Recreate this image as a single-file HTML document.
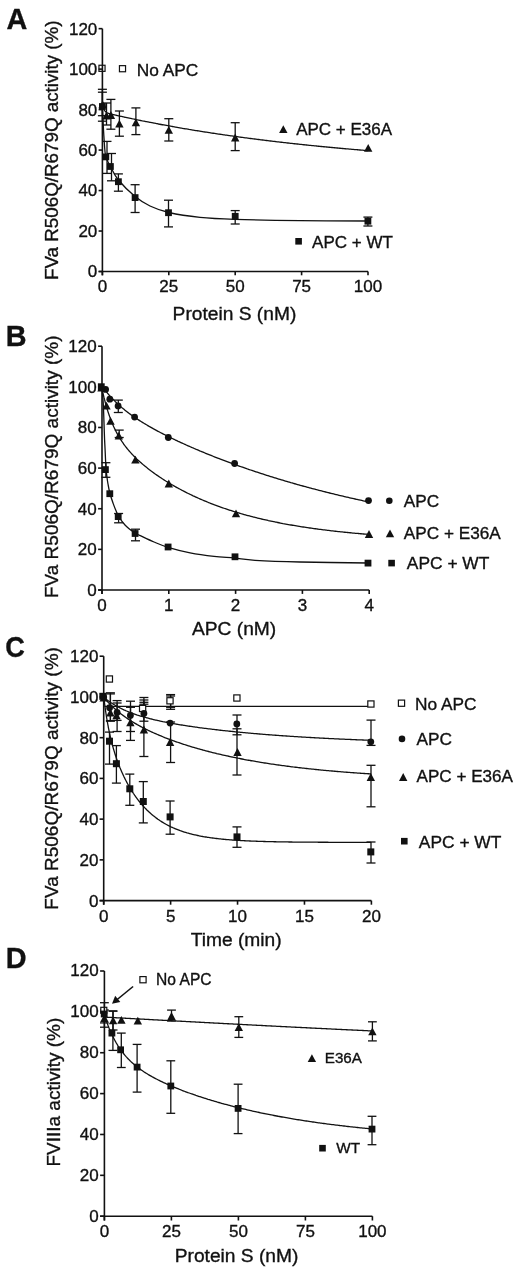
<!DOCTYPE html>
<html><head><meta charset="utf-8"><style>
html,body{margin:0;padding:0;background:#fff;}
svg{display:block;will-change:transform;}
text{font-family:"Liberation Sans", sans-serif;fill:#111;stroke:#111;stroke-width:0.35px;}
</style></head><body>
<svg width="520" height="1267" viewBox="0 0 520 1267">
<rect width="520" height="1267" fill="#fff"/>
<text x="6.60" y="28.90" font-size="28.8" text-anchor="start" font-weight="bold" >A</text>
<text x="5.80" y="346.00" font-size="28.8" text-anchor="start" font-weight="bold" >B</text>
<text transform="translate(5.3,657.0) scale(0.94,1)" x="0" y="0" font-size="28.8" font-weight="bold">C</text>
<text x="5.80" y="968.10" font-size="28.8" text-anchor="start" font-weight="bold" >D</text>
<text x="97.30" y="277.40" font-size="17" text-anchor="end" font-weight="normal" >0</text>
<text x="97.30" y="236.93" font-size="17" text-anchor="end" font-weight="normal" >20</text>
<text x="97.30" y="196.45" font-size="17" text-anchor="end" font-weight="normal" >40</text>
<text x="97.30" y="155.97" font-size="17" text-anchor="end" font-weight="normal" >60</text>
<text x="97.30" y="115.50" font-size="17" text-anchor="end" font-weight="normal" >80</text>
<text x="97.30" y="75.03" font-size="17" text-anchor="end" font-weight="normal" >100</text>
<text x="97.30" y="34.55" font-size="17" text-anchor="end" font-weight="normal" >120</text>
<text x="102.40" y="291.80" font-size="17" text-anchor="middle" font-weight="normal" >0</text>
<text x="168.80" y="291.80" font-size="17" text-anchor="middle" font-weight="normal" >25</text>
<text x="235.20" y="291.80" font-size="17" text-anchor="middle" font-weight="normal" >50</text>
<text x="301.60" y="291.80" font-size="17" text-anchor="middle" font-weight="normal" >75</text>
<text x="368.00" y="291.80" font-size="17" text-anchor="middle" font-weight="normal" >100</text>
<text transform="translate(58.15,280.00) rotate(-90)" x="0" y="0" font-size="18.8">FVa R506Q/R679Q activity (%)</text>
<text x="172.60" y="320.20" font-size="19.2" text-anchor="start" font-weight="normal" >Protein S (nM)</text>
<path d="M102.40,104.02 L102.40,104.02 L102.45,104.27 L102.45,104.28 L102.45,104.30 L102.46,104.31 L102.46,104.32 L102.46,104.33 L102.46,104.35 L102.47,104.36 L102.47,104.38 L102.47,104.39 L102.48,104.41 L102.48,104.42 L102.48,104.44 L102.49,104.46 L102.49,104.48 L102.50,104.50 L102.50,104.52 L102.50,104.54 L102.51,104.56 L102.51,104.58 L102.52,104.61 L102.52,104.63 L102.53,104.66 L102.53,104.69 L102.54,104.71 L102.55,104.74 L102.55,104.77 L102.56,104.81 L102.57,104.84 L102.57,104.87 L102.58,104.91 L102.59,104.95 L102.60,104.98 L102.61,105.02 L102.62,105.07 L102.63,105.11 L102.64,105.15 L102.65,105.20 L102.66,105.25 L102.67,105.30 L102.68,105.35 L102.69,105.41 L102.71,105.46 L102.72,105.52 L102.73,105.58 L102.75,105.64 L102.76,105.71 L102.78,105.77 L102.80,105.84 L102.81,105.91 L102.83,105.99 L102.85,106.06 L102.87,106.14 L102.89,106.22 L102.91,106.30 L102.94,106.39 L102.96,106.48 L102.98,106.57 L103.01,106.66 L103.04,106.76 L103.06,106.86 L103.09,106.96 L103.12,107.07 L103.16,107.17 L103.19,107.28 L103.22,107.40 L103.26,107.51 L103.30,107.63 L103.34,107.75 L103.38,107.87 L103.42,108.00 L103.47,108.13 L103.51,108.26 L103.56,108.39 L103.61,108.53 L103.67,108.66 L103.72,108.80 L103.73,108.83 L103.78,108.94 L103.84,109.08 L103.91,109.22 L103.97,109.37 L104.04,109.51 L104.11,109.66 L104.19,109.80 L104.27,109.95 L104.35,110.10 L104.44,110.24 L104.53,110.39 L104.62,110.53 L104.72,110.68 L104.82,110.82 L104.93,110.96 L105.04,111.10 L105.07,111.14 L105.15,111.24 L105.28,111.38 L105.40,111.51 L105.53,111.65 L105.67,111.77 L105.82,111.90 L105.97,112.03 L106.12,112.15 L106.29,112.27 L106.40,112.35 L106.46,112.38 L106.64,112.49 L106.82,112.60 L107.02,112.71 L107.22,112.82 L107.43,112.92 L107.66,113.02 L107.74,113.05 L107.89,113.11 L108.13,113.21 L108.38,113.30 L108.65,113.40 L108.92,113.49 L109.07,113.54 L109.21,113.58 L109.51,113.67 L109.82,113.76 L110.15,113.85 L110.41,113.92 L110.49,113.94 L110.85,114.04 L111.22,114.13 L111.61,114.23 L111.74,114.26 L112.01,114.33 L112.43,114.43 L112.88,114.53 L113.08,114.58 L113.34,114.64 L113.82,114.75 L114.32,114.87 L114.41,114.89 L114.85,114.99 L115.40,115.11 L115.75,115.19 L115.97,115.24 L116.57,115.38 L117.08,115.49 L117.19,115.52 L117.84,115.66 L118.42,115.79 L118.52,115.81 L119.23,115.97 L119.75,116.09 L119.97,116.13 L120.75,116.30 L121.09,116.38 L121.56,116.48 L122.40,116.67 L122.42,116.67 L123.28,116.86 L123.75,116.96 L124.20,117.06 L125.09,117.25 L125.16,117.27 L126.16,117.48 L126.42,117.54 L127.21,117.71 L127.76,117.82 L128.30,117.94 L129.09,118.11 L129.44,118.18 L130.43,118.39 L130.64,118.43 L131.76,118.67 L131.88,118.70 L133.10,118.95 L133.18,118.97 L134.43,119.23 L134.53,119.25 L135.77,119.51 L135.95,119.54 L137.10,119.78 L137.43,119.85 L138.44,120.05 L138.97,120.16 L139.77,120.33 L140.58,120.49 L141.11,120.60 L142.26,120.83 L142.44,120.87 L143.77,121.13 L144.02,121.18 L145.11,121.40 L145.85,121.55 L146.44,121.67 L147.76,121.93 L147.78,121.93 L149.11,122.19 L149.76,122.32 L150.45,122.45 L151.78,122.71 L151.85,122.72 L153.12,122.97 L154.03,123.14 L154.45,123.22 L155.79,123.48 L156.30,123.58 L157.12,123.73 L158.46,123.99 L158.67,124.03 L159.79,124.24 L161.13,124.49 L161.15,124.49 L162.46,124.74 L163.74,124.97 L163.79,124.98 L165.13,125.23 L166.44,125.47 L166.46,125.47 L167.80,125.72 L169.13,125.96 L169.26,125.98 L170.47,126.20 L171.80,126.44 L172.21,126.51 L173.14,126.67 L174.47,126.91 L175.28,127.05 L175.81,127.15 L177.14,127.38 L178.48,127.61 L178.49,127.62 L179.81,127.84 L181.15,128.07 L181.85,128.20 L182.48,128.30 L183.82,128.53 L185.15,128.76 L185.35,128.79 L186.48,128.98 L187.82,129.21 L189.00,129.40 L189.15,129.43 L190.49,129.65 L191.82,129.87 L192.81,130.04 L193.16,130.09 L194.49,130.31 L195.83,130.53 L196.80,130.68 L197.16,130.74 L198.50,130.96 L199.83,131.17 L200.95,131.35 L201.17,131.38 L202.50,131.60 L203.84,131.81 L205.17,132.01 L205.29,132.03 L206.50,132.22 L207.84,132.43 L209.17,132.63 L209.83,132.73 L210.51,132.84 L211.84,133.04 L213.18,133.25 L214.51,133.45 L214.56,133.45 L215.85,133.65 L217.18,133.85 L218.52,134.04 L219.50,134.19 L219.85,134.24 L221.19,134.44 L222.52,134.63 L223.86,134.83 L224.66,134.94 L225.19,135.02 L226.52,135.21 L227.86,135.40 L229.19,135.59 L230.04,135.71 L230.53,135.78 L231.86,135.97 L233.20,136.15 L234.53,136.34 L235.66,136.49 L235.87,136.52 L237.20,136.71 L238.54,136.89 L239.87,137.07 L241.21,137.25 L241.53,137.30 L242.54,137.43 L243.88,137.61 L245.21,137.79 L246.54,137.96 L247.66,138.11 L247.88,138.14 L249.21,138.32 L250.55,138.49 L251.88,138.66 L253.22,138.83 L254.06,138.94 L254.55,139.01 L255.89,139.18 L257.22,139.35 L258.56,139.51 L259.89,139.68 L260.74,139.79 L261.23,139.85 L262.56,140.01 L263.90,140.18 L265.23,140.34 L266.56,140.51 L267.71,140.65 L267.90,140.67 L269.23,140.83 L270.57,140.99 L271.90,141.15 L273.24,141.31 L274.57,141.47 L275.00,141.52 L275.91,141.62 L277.24,141.78 L278.58,141.93 L279.91,142.09 L281.25,142.24 L282.58,142.40 L282.60,142.40 L283.92,142.55 L285.25,142.70 L286.58,142.85 L287.92,143.00 L289.25,143.15 L290.53,143.29 L290.59,143.30 L291.92,143.44 L293.26,143.59 L294.59,143.74 L295.93,143.88 L297.26,144.02 L298.60,144.17 L298.82,144.19 L299.93,144.31 L301.27,144.45 L302.60,144.59 L303.94,144.73 L305.27,144.87 L306.61,145.01 L307.47,145.10 L307.94,145.15 L309.27,145.29 L310.61,145.42 L311.94,145.56 L313.28,145.69 L314.61,145.83 L315.95,145.96 L316.51,146.02 L317.28,146.09 L318.62,146.23 L319.95,146.36 L321.29,146.49 L322.62,146.62 L323.96,146.75 L325.29,146.88 L325.94,146.94 L326.63,147.00 L327.96,147.13 L329.29,147.26 L330.63,147.38 L331.96,147.51 L333.30,147.63 L334.63,147.76 L335.78,147.86 L335.97,147.88 L337.30,148.00 L338.64,148.13 L339.97,148.25 L341.31,148.37 L342.64,148.49 L343.98,148.61 L345.31,148.73 L346.06,148.79 L346.65,148.84 L347.98,148.96 L349.31,149.08 L350.65,149.19 L351.98,149.31 L353.32,149.42 L354.65,149.54 L355.99,149.65 L356.79,149.72 L357.32,149.77 L358.66,149.88 L359.99,149.99 L361.33,150.10 L362.66,150.21 L364.00,150.32 L365.33,150.43 L366.67,150.54 L368.00,150.65" fill="none" stroke="#111" stroke-width="1.3" stroke-linejoin="round"/>
<path d="M102.40,106.00 C102.48,108.00 102.73,114.33 102.90,118.00 C103.07,121.67 103.25,125.17 103.40,128.00 C103.55,130.83 103.60,131.83 103.80,135.00 C104.00,138.17 104.35,143.83 104.60,147.00 C104.85,150.17 104.98,152.08 105.30,154.00 C105.62,155.92 106.05,157.17 106.50,158.50 C106.95,159.83 107.35,160.67 108.00,162.00 C108.65,163.33 108.67,163.50 110.40,166.50 C112.13,169.50 114.28,175.00 118.40,180.00 C122.52,185.00 129.83,192.17 135.10,196.50 C140.37,200.83 144.38,203.33 150.00,206.00 C155.62,208.67 160.47,210.62 168.80,212.50 C177.13,214.38 188.97,216.17 200.00,217.30 C211.03,218.43 218.33,218.75 235.00,219.30 C251.67,219.85 277.83,220.32 300.00,220.60 C322.17,220.88 356.67,220.93 368.00,221.00" fill="none" stroke="#111" stroke-width="1.3"/>
<line x1="102.40" y1="92.20" x2="102.40" y2="115.70" stroke="#111" stroke-width="1.3"/>
<line x1="97.90" y1="92.20" x2="106.90" y2="92.20" stroke="#111" stroke-width="1.3"/>
<line x1="97.90" y1="115.70" x2="106.90" y2="115.70" stroke="#111" stroke-width="1.3"/>
<line x1="106.50" y1="103.00" x2="106.50" y2="125.00" stroke="#111" stroke-width="1.3"/>
<line x1="102.00" y1="103.00" x2="111.00" y2="103.00" stroke="#111" stroke-width="1.3"/>
<line x1="102.00" y1="125.00" x2="111.00" y2="125.00" stroke="#111" stroke-width="1.3"/>
<line x1="110.90" y1="99.40" x2="110.90" y2="129.20" stroke="#111" stroke-width="1.3"/>
<line x1="106.40" y1="99.40" x2="115.40" y2="99.40" stroke="#111" stroke-width="1.3"/>
<line x1="106.40" y1="129.20" x2="115.40" y2="129.20" stroke="#111" stroke-width="1.3"/>
<line x1="119.40" y1="111.00" x2="119.40" y2="136.20" stroke="#111" stroke-width="1.3"/>
<line x1="114.90" y1="111.00" x2="123.90" y2="111.00" stroke="#111" stroke-width="1.3"/>
<line x1="114.90" y1="136.20" x2="123.90" y2="136.20" stroke="#111" stroke-width="1.3"/>
<line x1="135.90" y1="107.90" x2="135.90" y2="134.60" stroke="#111" stroke-width="1.3"/>
<line x1="131.40" y1="107.90" x2="140.40" y2="107.90" stroke="#111" stroke-width="1.3"/>
<line x1="131.40" y1="134.60" x2="140.40" y2="134.60" stroke="#111" stroke-width="1.3"/>
<line x1="168.80" y1="118.70" x2="168.80" y2="141.00" stroke="#111" stroke-width="1.3"/>
<line x1="164.30" y1="118.70" x2="173.30" y2="118.70" stroke="#111" stroke-width="1.3"/>
<line x1="164.30" y1="141.00" x2="173.30" y2="141.00" stroke="#111" stroke-width="1.3"/>
<line x1="235.20" y1="122.70" x2="235.20" y2="150.60" stroke="#111" stroke-width="1.3"/>
<line x1="230.70" y1="122.70" x2="239.70" y2="122.70" stroke="#111" stroke-width="1.3"/>
<line x1="230.70" y1="150.60" x2="239.70" y2="150.60" stroke="#111" stroke-width="1.3"/>
<line x1="102.40" y1="89.30" x2="102.40" y2="121.20" stroke="#111" stroke-width="1.3"/>
<line x1="97.90" y1="89.30" x2="106.90" y2="89.30" stroke="#111" stroke-width="1.3"/>
<line x1="97.90" y1="121.20" x2="106.90" y2="121.20" stroke="#111" stroke-width="1.3"/>
<line x1="107.00" y1="141.40" x2="107.00" y2="173.40" stroke="#111" stroke-width="1.3"/>
<line x1="102.50" y1="141.40" x2="111.50" y2="141.40" stroke="#111" stroke-width="1.3"/>
<line x1="102.50" y1="173.40" x2="111.50" y2="173.40" stroke="#111" stroke-width="1.3"/>
<line x1="111.50" y1="153.50" x2="111.50" y2="180.80" stroke="#111" stroke-width="1.3"/>
<line x1="107.00" y1="153.50" x2="116.00" y2="153.50" stroke="#111" stroke-width="1.3"/>
<line x1="107.00" y1="180.80" x2="116.00" y2="180.80" stroke="#111" stroke-width="1.3"/>
<line x1="118.40" y1="173.90" x2="118.40" y2="191.20" stroke="#111" stroke-width="1.3"/>
<line x1="113.90" y1="173.90" x2="122.90" y2="173.90" stroke="#111" stroke-width="1.3"/>
<line x1="113.90" y1="191.20" x2="122.90" y2="191.20" stroke="#111" stroke-width="1.3"/>
<line x1="135.10" y1="184.70" x2="135.10" y2="212.50" stroke="#111" stroke-width="1.3"/>
<line x1="130.60" y1="184.70" x2="139.60" y2="184.70" stroke="#111" stroke-width="1.3"/>
<line x1="130.60" y1="212.50" x2="139.60" y2="212.50" stroke="#111" stroke-width="1.3"/>
<line x1="168.50" y1="200.20" x2="168.50" y2="226.90" stroke="#111" stroke-width="1.3"/>
<line x1="164.00" y1="200.20" x2="173.00" y2="200.20" stroke="#111" stroke-width="1.3"/>
<line x1="164.00" y1="226.90" x2="173.00" y2="226.90" stroke="#111" stroke-width="1.3"/>
<line x1="235.20" y1="210.60" x2="235.20" y2="224.00" stroke="#111" stroke-width="1.3"/>
<line x1="230.70" y1="210.60" x2="239.70" y2="210.60" stroke="#111" stroke-width="1.3"/>
<line x1="230.70" y1="224.00" x2="239.70" y2="224.00" stroke="#111" stroke-width="1.3"/>
<line x1="367.90" y1="217.10" x2="367.90" y2="226.00" stroke="#111" stroke-width="1.3"/>
<line x1="363.40" y1="217.10" x2="372.40" y2="217.10" stroke="#111" stroke-width="1.3"/>
<line x1="363.40" y1="226.00" x2="372.40" y2="226.00" stroke="#111" stroke-width="1.3"/>
<path d="M106.50,111.60 L110.70,119.40 L102.30,119.40 Z" fill="#111"/>
<path d="M110.90,111.10 L115.10,118.90 L106.70,118.90 Z" fill="#111"/>
<path d="M119.40,119.80 L123.60,127.60 L115.20,127.60 Z" fill="#111"/>
<path d="M135.90,118.40 L140.10,126.20 L131.70,126.20 Z" fill="#111"/>
<path d="M168.80,125.90 L173.00,133.70 L164.60,133.70 Z" fill="#111"/>
<path d="M235.20,133.60 L239.40,141.40 L231.00,141.40 Z" fill="#111"/>
<path d="M368.20,144.00 L372.40,151.80 L364.00,151.80 Z" fill="#111"/>
<rect x="99.00" y="103.10" width="6.8" height="6.8" fill="#111"/>
<rect x="102.40" y="153.50" width="6.8" height="6.8" fill="#111"/>
<rect x="107.00" y="163.10" width="6.8" height="6.8" fill="#111"/>
<rect x="115.00" y="178.30" width="6.8" height="6.8" fill="#111"/>
<rect x="131.70" y="194.20" width="6.8" height="6.8" fill="#111"/>
<rect x="165.10" y="209.30" width="6.8" height="6.8" fill="#111"/>
<rect x="231.80" y="212.90" width="6.8" height="6.8" fill="#111"/>
<rect x="364.50" y="217.80" width="6.8" height="6.8" fill="#111"/>
<path d="M102.60,100.40 L106.80,108.20 L98.40,108.20 Z" fill="#111"/>
<rect x="98.95" y="65.25" width="6.10" height="6.10" fill="#fff" stroke="#111" stroke-width="1.2"/>
<rect x="119.45" y="65.65" width="6.10" height="6.10" fill="#fff" stroke="#111" stroke-width="1.2"/>
<text x="136.70" y="75.50" font-size="17.3" text-anchor="start" font-weight="normal" >No APC</text>
<path d="M283.30,125.30 L287.50,133.10 L279.10,133.10 Z" fill="#111"/>
<text x="296.20" y="134.50" font-size="17" text-anchor="start" font-weight="normal" >APC + E36A</text>
<rect x="295.30" y="238.00" width="6.6" height="6.6" fill="#111"/>
<text x="312.10" y="247.60" font-size="17" text-anchor="start" font-weight="normal" >APC + WT</text>
<text x="96.60" y="595.90" font-size="17" text-anchor="end" font-weight="normal" >0</text>
<text x="96.60" y="555.27" font-size="17" text-anchor="end" font-weight="normal" >20</text>
<text x="96.60" y="514.63" font-size="17" text-anchor="end" font-weight="normal" >40</text>
<text x="96.60" y="474.00" font-size="17" text-anchor="end" font-weight="normal" >60</text>
<text x="96.60" y="433.37" font-size="17" text-anchor="end" font-weight="normal" >80</text>
<text x="96.60" y="392.73" font-size="17" text-anchor="end" font-weight="normal" >100</text>
<text x="96.60" y="352.10" font-size="17" text-anchor="end" font-weight="normal" >120</text>
<text x="102.00" y="611.00" font-size="17" text-anchor="middle" font-weight="normal" >0</text>
<text x="168.80" y="611.00" font-size="17" text-anchor="middle" font-weight="normal" >1</text>
<text x="235.60" y="611.00" font-size="17" text-anchor="middle" font-weight="normal" >2</text>
<text x="302.40" y="611.00" font-size="17" text-anchor="middle" font-weight="normal" >3</text>
<text x="369.20" y="611.00" font-size="17" text-anchor="middle" font-weight="normal" >4</text>
<text transform="translate(58.15,598.10) rotate(-90)" x="0" y="0" font-size="19">FVa R506Q/R679Q activity (%)</text>
<text x="192.00" y="635.40" font-size="19.2" text-anchor="start" font-weight="normal" >APC (nM)</text>
<path d="M101.80,385.79 L101.80,385.79 L101.85,385.86 L101.85,385.86 L101.85,385.87 L101.86,385.87 L101.86,385.87 L101.86,385.88 L101.86,385.88 L101.87,385.88 L101.87,385.89 L101.87,385.89 L101.88,385.90 L101.88,385.90 L101.88,385.91 L101.89,385.91 L101.89,385.92 L101.90,385.92 L101.90,385.93 L101.90,385.94 L101.91,385.94 L101.91,385.95 L101.92,385.96 L101.92,385.96 L101.93,385.97 L101.93,385.98 L101.94,385.99 L101.95,386.00 L101.95,386.00 L101.96,386.01 L101.97,386.02 L101.97,386.03 L101.98,386.05 L101.99,386.06 L102.00,386.07 L102.01,386.08 L102.02,386.09 L102.03,386.11 L102.04,386.12 L102.05,386.14 L102.06,386.15 L102.07,386.17 L102.08,386.18 L102.09,386.20 L102.11,386.22 L102.12,386.24 L102.13,386.26 L102.15,386.28 L102.16,386.30 L102.18,386.32 L102.20,386.34 L102.21,386.37 L102.23,386.39 L102.25,386.42 L102.27,386.45 L102.29,386.48 L102.31,386.51 L102.34,386.54 L102.36,386.57 L102.38,386.61 L102.41,386.64 L102.44,386.68 L102.46,386.72 L102.49,386.76 L102.52,386.80 L102.56,386.85 L102.59,386.89 L102.62,386.94 L102.66,386.99 L102.70,387.04 L102.74,387.10 L102.78,387.15 L102.82,387.21 L102.87,387.27 L102.92,387.34 L102.96,387.41 L103.02,387.48 L103.07,387.55 L103.13,387.62 L103.14,387.64 L103.18,387.70 L103.24,387.79 L103.31,387.87 L103.38,387.96 L103.44,388.06 L103.52,388.15 L103.59,388.25 L103.67,388.36 L103.75,388.47 L103.84,388.58 L103.93,388.70 L104.02,388.83 L104.12,388.96 L104.22,389.09 L104.33,389.23 L104.44,389.38 L104.48,389.43 L104.56,389.53 L104.68,389.69 L104.81,389.85 L104.94,390.02 L105.08,390.20 L105.22,390.38 L105.37,390.58 L105.53,390.78 L105.70,390.98 L105.82,391.14 L105.87,391.20 L106.05,391.42 L106.23,391.66 L106.43,391.90 L106.63,392.15 L106.85,392.41 L107.07,392.68 L107.16,392.79 L107.30,392.96 L107.54,393.25 L107.80,393.55 L108.06,393.86 L108.34,394.18 L108.50,394.38 L108.62,394.52 L108.93,394.87 L109.24,395.23 L109.57,395.60 L109.84,395.91 L109.91,395.98 L110.27,396.38 L110.64,396.79 L111.03,397.22 L111.18,397.38 L111.44,397.66 L111.86,398.11 L112.30,398.58 L112.52,398.81 L112.77,399.07 L113.25,399.57 L113.75,400.08 L113.86,400.19 L114.28,400.62 L114.83,401.16 L115.20,401.53 L115.41,401.73 L116.01,402.31 L116.54,402.82 L116.63,402.91 L117.29,403.52 L117.88,404.08 L117.97,404.16 L118.68,404.81 L119.22,405.30 L119.42,405.48 L120.20,406.17 L120.56,406.48 L121.01,406.87 L121.86,407.60 L121.90,407.64 L122.74,408.34 L123.24,408.76 L123.66,409.11 L124.58,409.85 L124.63,409.89 L125.63,410.69 L125.92,410.92 L126.68,411.51 L127.26,411.96 L127.78,412.36 L128.60,412.98 L128.93,413.22 L129.94,413.97 L130.12,414.10 L131.28,414.95 L131.37,415.01 L132.62,415.90 L132.67,415.93 L133.96,416.83 L134.03,416.88 L135.31,417.75 L135.45,417.85 L136.65,418.65 L136.94,418.84 L137.99,419.53 L138.49,419.86 L139.33,420.40 L140.10,420.90 L140.67,421.25 L141.79,421.96 L142.01,422.09 L143.35,422.92 L143.55,423.05 L144.69,423.74 L145.39,424.16 L146.03,424.54 L147.31,425.30 L147.37,425.33 L148.71,426.11 L149.32,426.46 L150.05,426.88 L151.39,427.64 L151.41,427.66 L152.73,428.39 L153.60,428.88 L154.07,429.13 L155.41,429.87 L155.88,430.13 L156.75,430.59 L158.09,431.31 L158.27,431.41 L159.43,432.02 L160.75,432.72 L160.77,432.73 L162.11,433.42 L163.35,434.06 L163.45,434.11 L164.79,434.79 L166.06,435.44 L166.13,435.47 L167.47,436.14 L168.81,436.80 L168.90,436.85 L170.15,437.46 L171.49,438.12 L171.85,438.29 L172.83,438.76 L174.17,439.41 L174.94,439.77 L175.51,440.05 L176.85,440.68 L178.16,441.29 L178.19,441.31 L179.53,441.93 L180.87,442.55 L181.53,442.85 L182.21,443.16 L183.55,443.77 L184.89,444.38 L185.04,444.45 L186.23,444.98 L187.57,445.58 L188.71,446.08 L188.91,446.17 L190.25,446.76 L191.59,447.35 L192.54,447.76 L192.93,447.93 L194.27,448.51 L195.61,449.08 L196.54,449.48 L196.95,449.66 L198.29,450.22 L199.63,450.79 L200.71,451.24 L200.97,451.35 L202.32,451.91 L203.66,452.46 L205.00,453.01 L205.07,453.04 L206.34,453.56 L207.68,454.10 L209.02,454.64 L209.62,454.89 L210.36,455.18 L211.70,455.72 L213.04,456.25 L214.38,456.78 L214.38,456.78 L215.72,457.30 L217.06,457.83 L218.40,458.35 L219.34,458.71 L219.74,458.86 L221.08,459.38 L222.42,459.89 L223.76,460.40 L224.52,460.68 L225.10,460.90 L226.44,461.40 L227.78,461.90 L229.12,462.40 L229.92,462.70 L230.46,462.90 L231.80,463.39 L233.14,463.88 L234.48,464.36 L235.57,464.76 L235.82,464.85 L237.16,465.33 L238.50,465.81 L239.84,466.28 L241.18,466.76 L241.47,466.86 L242.52,467.23 L243.86,467.70 L245.20,468.16 L246.54,468.62 L247.62,469.00 L247.88,469.09 L249.22,469.54 L250.56,470.00 L251.90,470.45 L253.24,470.90 L254.05,471.17 L254.58,471.35 L255.92,471.80 L257.26,472.24 L258.60,472.68 L259.94,473.12 L260.76,473.39 L261.28,473.56 L262.62,473.99 L263.96,474.42 L265.30,474.85 L266.64,475.28 L267.76,475.64 L267.98,475.71 L269.33,476.13 L270.67,476.55 L272.01,476.97 L273.35,477.38 L274.69,477.80 L275.07,477.92 L276.03,478.21 L277.37,478.62 L278.71,479.03 L280.05,479.43 L281.39,479.84 L282.71,480.23 L282.73,480.24 L284.07,480.64 L285.41,481.03 L286.75,481.43 L288.09,481.82 L289.43,482.21 L290.68,482.57 L290.77,482.60 L292.11,482.98 L293.45,483.37 L294.79,483.75 L296.13,484.13 L297.47,484.51 L298.81,484.88 L299.01,484.94 L300.15,485.26 L301.49,485.63 L302.83,486.00 L304.17,486.37 L305.51,486.73 L306.85,487.10 L307.70,487.33 L308.19,487.46 L309.53,487.82 L310.87,488.18 L312.21,488.54 L313.55,488.89 L314.89,489.24 L316.23,489.59 L316.77,489.74 L317.57,489.94 L318.91,490.29 L320.25,490.64 L321.59,490.98 L322.93,491.32 L324.27,491.66 L325.61,492.00 L326.24,492.16 L326.95,492.34 L328.29,492.67 L329.63,493.00 L330.97,493.33 L332.31,493.66 L333.65,493.99 L334.99,494.32 L336.13,494.59 L336.34,494.64 L337.68,494.96 L339.02,495.28 L340.36,495.60 L341.70,495.92 L343.04,496.24 L344.38,496.55 L345.72,496.86 L346.46,497.03 L347.06,497.17 L348.40,497.48 L349.74,497.79 L351.08,498.09 L352.42,498.40 L353.76,498.70 L355.10,499.00 L356.44,499.30 L357.24,499.48 L357.78,499.60 L359.12,499.89 L360.46,500.19 L361.80,500.48 L363.14,500.77 L364.48,501.06 L365.82,501.35 L367.16,501.64 L368.50,501.92" fill="none" stroke="#111" stroke-width="1.3" stroke-linejoin="round"/>
<path d="M101.80,387.74 L101.80,387.74 L101.85,387.98 L101.85,387.99 L101.85,388.00 L101.86,388.01 L101.86,388.02 L101.86,388.04 L101.86,388.05 L101.87,388.06 L101.87,388.08 L101.87,388.09 L101.88,388.11 L101.88,388.12 L101.88,388.14 L101.89,388.16 L101.89,388.18 L101.90,388.19 L101.90,388.21 L101.90,388.24 L101.91,388.26 L101.91,388.28 L101.92,388.30 L101.92,388.33 L101.93,388.35 L101.93,388.38 L101.94,388.41 L101.95,388.44 L101.95,388.47 L101.96,388.50 L101.97,388.54 L101.97,388.57 L101.98,388.61 L101.99,388.64 L102.00,388.68 L102.01,388.73 L102.02,388.77 L102.03,388.81 L102.04,388.86 L102.05,388.91 L102.06,388.96 L102.07,389.01 L102.08,389.07 L102.09,389.13 L102.11,389.19 L102.12,389.25 L102.13,389.32 L102.15,389.39 L102.16,389.46 L102.18,389.53 L102.20,389.61 L102.21,389.69 L102.23,389.78 L102.25,389.87 L102.27,389.96 L102.29,390.05 L102.31,390.15 L102.34,390.26 L102.36,390.37 L102.38,390.48 L102.41,390.60 L102.44,390.72 L102.47,390.85 L102.49,390.98 L102.53,391.12 L102.56,391.27 L102.59,391.42 L102.63,391.58 L102.66,391.74 L102.70,391.91 L102.74,392.09 L102.78,392.27 L102.82,392.46 L102.87,392.66 L102.92,392.87 L102.97,393.09 L103.02,393.32 L103.07,393.55 L103.13,393.79 L103.14,393.86 L103.18,394.05 L103.25,394.31 L103.31,394.58 L103.38,394.87 L103.45,395.17 L103.52,395.47 L103.59,395.79 L103.67,396.12 L103.76,396.47 L103.84,396.82 L103.93,397.19 L104.03,397.58 L104.12,397.98 L104.23,398.39 L104.33,398.82 L104.44,399.26 L104.49,399.42 L104.56,399.72 L104.68,400.19 L104.81,400.69 L104.94,401.20 L105.08,401.72 L105.23,402.27 L105.38,402.83 L105.53,403.41 L105.70,404.01 L105.83,404.47 L105.87,404.63 L106.05,405.27 L106.24,405.92 L106.43,406.60 L106.64,407.30 L106.85,408.02 L107.07,408.76 L107.17,409.08 L107.31,409.52 L107.55,410.31 L107.80,411.11 L108.07,411.93 L108.34,412.78 L108.51,413.29 L108.63,413.65 L108.93,414.54 L109.25,415.45 L109.58,416.38 L109.86,417.16 L109.92,417.33 L110.28,418.30 L110.65,419.30 L111.04,420.31 L111.20,420.72 L111.45,421.34 L111.87,422.40 L112.32,423.47 L112.54,424.00 L112.78,424.56 L113.26,425.67 L113.77,426.79 L113.88,427.04 L114.30,427.93 L114.85,429.09 L115.23,429.87 L115.42,430.26 L116.02,431.45 L116.57,432.50 L116.65,432.65 L117.30,433.87 L117.91,434.97 L117.99,435.10 L118.70,436.34 L119.26,437.28 L119.45,437.60 L120.22,438.86 L120.60,439.45 L121.04,440.14 L121.88,441.42 L121.94,441.51 L122.77,442.72 L123.28,443.45 L123.69,444.03 L124.63,445.30 L124.66,445.35 L125.67,446.67 L125.97,447.06 L126.72,448.01 L127.31,448.75 L127.82,449.36 L128.65,450.36 L128.96,450.72 L130.00,451.91 L130.16,452.09 L131.34,453.40 L131.41,453.47 L132.68,454.83 L132.72,454.87 L134.03,456.22 L134.08,456.27 L135.37,457.56 L135.50,457.69 L136.71,458.87 L136.99,459.13 L138.05,460.13 L138.54,460.58 L139.40,461.36 L140.16,462.05 L140.74,462.56 L141.85,463.53 L142.08,463.73 L143.42,464.88 L143.61,465.04 L144.77,465.99 L145.46,466.56 L146.11,467.09 L147.38,468.10 L147.45,468.16 L148.79,469.21 L149.39,469.66 L150.14,470.23 L151.48,471.24 L151.49,471.25 L152.82,472.23 L153.68,472.85 L154.17,473.21 L155.51,474.16 L155.96,474.48 L156.85,475.10 L158.19,476.03 L158.35,476.14 L159.54,476.94 L160.84,477.81 L160.88,477.83 L162.22,478.71 L163.45,479.51 L163.56,479.58 L164.91,480.44 L166.16,481.22 L166.25,481.28 L167.59,482.11 L168.94,482.92 L169.00,482.96 L170.28,483.73 L171.62,484.52 L171.96,484.72 L172.96,485.30 L174.31,486.07 L175.06,486.50 L175.65,486.83 L176.99,487.58 L178.29,488.30 L178.33,488.32 L179.68,489.05 L181.02,489.77 L181.66,490.11 L182.36,490.48 L183.71,491.18 L185.05,491.87 L185.18,491.93 L186.39,492.55 L187.73,493.22 L188.85,493.77 L189.08,493.88 L190.42,494.53 L191.76,495.17 L192.69,495.61 L193.10,495.81 L194.45,496.43 L195.79,497.05 L196.70,497.46 L197.13,497.66 L198.48,498.26 L199.82,498.85 L200.88,499.32 L201.16,499.44 L202.50,500.01 L203.85,500.58 L205.19,501.15 L205.25,501.17 L206.53,501.70 L207.87,502.25 L209.22,502.78 L209.80,503.02 L210.56,503.32 L211.90,503.84 L213.25,504.36 L214.57,504.86 L214.59,504.87 L215.93,505.37 L217.27,505.87 L218.62,506.36 L219.54,506.69 L219.96,506.84 L221.30,507.32 L222.64,507.79 L223.99,508.25 L224.73,508.51 L225.33,508.71 L226.67,509.16 L228.02,509.61 L229.36,510.05 L230.14,510.30 L230.70,510.48 L232.04,510.91 L233.39,511.33 L234.73,511.75 L235.80,512.08 L236.07,512.16 L237.41,512.57 L238.76,512.97 L240.10,513.36 L241.44,513.75 L241.71,513.83 L242.78,514.13 L244.13,514.51 L245.47,514.89 L246.81,515.26 L247.87,515.54 L248.16,515.62 L249.50,515.98 L250.84,516.33 L252.18,516.68 L253.53,517.03 L254.31,517.23 L254.87,517.37 L256.21,517.70 L257.55,518.03 L258.90,518.36 L260.24,518.68 L261.04,518.87 L261.58,519.00 L262.93,519.31 L264.27,519.62 L265.61,519.93 L266.95,520.23 L268.05,520.47 L268.30,520.53 L269.64,520.82 L270.98,521.11 L272.32,521.39 L273.67,521.67 L275.01,521.95 L275.38,522.03 L276.35,522.23 L277.70,522.50 L279.04,522.76 L280.38,523.02 L281.72,523.28 L283.03,523.53 L283.07,523.54 L284.41,523.79 L285.75,524.04 L287.09,524.29 L288.44,524.53 L289.78,524.77 L291.02,524.99 L291.12,525.00 L292.47,525.24 L293.81,525.47 L295.15,525.69 L296.49,525.92 L297.84,526.14 L299.18,526.36 L299.36,526.38 L300.52,526.57 L301.86,526.78 L303.21,526.99 L304.55,527.20 L305.89,527.40 L307.24,527.60 L308.07,527.72 L308.58,527.80 L309.92,527.99 L311.26,528.19 L312.61,528.38 L313.95,528.56 L315.29,528.75 L316.63,528.93 L317.16,529.00 L317.98,529.11 L319.32,529.29 L320.66,529.46 L322.01,529.64 L323.35,529.81 L324.69,529.98 L326.03,530.14 L326.66,530.22 L327.38,530.31 L328.72,530.47 L330.06,530.63 L331.40,530.78 L332.75,530.94 L334.09,531.09 L335.43,531.24 L336.57,531.37 L336.77,531.39 L338.12,531.54 L339.46,531.68 L340.80,531.83 L342.15,531.97 L343.49,532.11 L344.83,532.24 L346.17,532.38 L346.92,532.45 L347.52,532.51 L348.86,532.64 L350.20,532.77 L351.54,532.90 L352.89,533.03 L354.23,533.15 L355.57,533.28 L356.92,533.40 L357.72,533.47 L358.26,533.52 L359.60,533.64 L360.94,533.75 L362.29,533.87 L363.63,533.98 L364.97,534.10 L366.31,534.21 L367.66,534.31 L369.00,534.42" fill="none" stroke="#111" stroke-width="1.3" stroke-linejoin="round"/>
<path d="M101.80,387.50 C101.90,388.25 102.22,390.25 102.40,392.00 C102.58,393.75 102.73,395.67 102.90,398.00 C103.07,400.33 103.23,402.33 103.40,406.00 C103.57,409.67 103.75,415.67 103.90,420.00 C104.05,424.33 104.18,428.67 104.30,432.00 C104.42,435.33 104.47,437.00 104.60,440.00 C104.73,443.00 104.93,446.45 105.10,450.00 C105.27,453.55 105.42,457.97 105.60,461.30 C105.78,464.63 105.97,467.30 106.20,470.00 C106.43,472.70 106.70,475.17 107.00,477.50 C107.30,479.83 107.57,481.58 108.00,484.00 C108.43,486.42 108.77,488.83 109.60,492.00 C110.43,495.17 111.57,499.08 113.00,503.00 C114.43,506.92 116.20,511.83 118.20,515.50 C120.20,519.17 122.18,522.05 125.00,525.00 C127.82,527.95 132.67,531.48 135.10,533.20 C137.53,534.92 136.45,533.83 139.60,535.30 C142.75,536.77 149.27,540.00 154.00,542.00 C158.73,544.00 161.98,545.50 168.00,547.30 C174.02,549.10 182.42,551.28 190.10,552.80 C197.78,554.32 206.68,555.52 214.10,556.40 C221.52,557.28 227.78,557.45 234.60,558.10 C241.42,558.75 244.10,559.65 255.00,560.30 C265.90,560.95 281.17,561.55 300.00,562.00 C318.83,562.45 356.67,562.83 368.00,563.00" fill="none" stroke="#111" stroke-width="1.3"/>
<line x1="118.30" y1="400.10" x2="118.30" y2="412.50" stroke="#111" stroke-width="1.3"/>
<line x1="113.80" y1="400.10" x2="122.80" y2="400.10" stroke="#111" stroke-width="1.3"/>
<line x1="113.80" y1="412.50" x2="122.80" y2="412.50" stroke="#111" stroke-width="1.3"/>
<line x1="119.20" y1="430.10" x2="119.20" y2="437.50" stroke="#111" stroke-width="1.3"/>
<line x1="114.70" y1="430.10" x2="123.70" y2="430.10" stroke="#111" stroke-width="1.3"/>
<line x1="114.70" y1="437.50" x2="123.70" y2="437.50" stroke="#111" stroke-width="1.3"/>
<line x1="105.90" y1="462.70" x2="105.90" y2="477.30" stroke="#111" stroke-width="1.3"/>
<line x1="101.40" y1="462.70" x2="110.40" y2="462.70" stroke="#111" stroke-width="1.3"/>
<line x1="101.40" y1="477.30" x2="110.40" y2="477.30" stroke="#111" stroke-width="1.3"/>
<line x1="118.60" y1="513.50" x2="118.60" y2="522.80" stroke="#111" stroke-width="1.3"/>
<line x1="114.10" y1="513.50" x2="123.10" y2="513.50" stroke="#111" stroke-width="1.3"/>
<line x1="114.10" y1="522.80" x2="123.10" y2="522.80" stroke="#111" stroke-width="1.3"/>
<line x1="135.50" y1="529.20" x2="135.50" y2="540.80" stroke="#111" stroke-width="1.3"/>
<line x1="131.00" y1="529.20" x2="140.00" y2="529.20" stroke="#111" stroke-width="1.3"/>
<line x1="131.00" y1="540.80" x2="140.00" y2="540.80" stroke="#111" stroke-width="1.3"/>
<circle cx="105.60" cy="389.40" r="3.4" fill="#111"/>
<circle cx="109.80" cy="399.20" r="3.4" fill="#111"/>
<circle cx="118.10" cy="405.90" r="3.4" fill="#111"/>
<circle cx="134.60" cy="417.10" r="3.4" fill="#111"/>
<circle cx="168.30" cy="437.50" r="3.4" fill="#111"/>
<circle cx="234.60" cy="463.50" r="3.4" fill="#111"/>
<circle cx="368.50" cy="500.60" r="3.4" fill="#111"/>
<path d="M101.50,383.60 L105.70,391.40 L97.30,391.40 Z" fill="#111"/>
<path d="M106.50,401.70 L110.70,409.50 L102.30,409.50 Z" fill="#111"/>
<path d="M110.50,417.00 L114.70,424.80 L106.30,424.80 Z" fill="#111"/>
<path d="M118.80,431.70 L123.00,439.50 L114.60,439.50 Z" fill="#111"/>
<path d="M135.40,455.70 L139.60,463.50 L131.20,463.50 Z" fill="#111"/>
<path d="M168.80,479.60 L173.00,487.40 L164.60,487.40 Z" fill="#111"/>
<path d="M236.00,509.40 L240.20,517.20 L231.80,517.20 Z" fill="#111"/>
<path d="M369.00,530.10 L373.20,537.90 L364.80,537.90 Z" fill="#111"/>
<rect x="97.90" y="383.30" width="6.8" height="6.8" fill="#111"/>
<rect x="102.00" y="466.20" width="6.8" height="6.8" fill="#111"/>
<rect x="106.40" y="490.30" width="6.8" height="6.8" fill="#111"/>
<rect x="114.80" y="513.20" width="6.8" height="6.8" fill="#111"/>
<rect x="131.70" y="530.10" width="6.8" height="6.8" fill="#111"/>
<rect x="164.70" y="543.60" width="6.8" height="6.8" fill="#111"/>
<rect x="231.60" y="553.40" width="6.8" height="6.8" fill="#111"/>
<rect x="364.60" y="559.70" width="6.8" height="6.8" fill="#111"/>
<circle cx="389.30" cy="500.70" r="3.3" fill="#111"/>
<text x="403.80" y="506.90" font-size="17.2" text-anchor="start" font-weight="normal" >APC</text>
<path d="M390.00,529.40 L394.20,537.20 L385.80,537.20 Z" fill="#111"/>
<text x="403.80" y="538.90" font-size="17.2" text-anchor="start" font-weight="normal" >APC + E36A</text>
<rect x="388.30" y="559.80" width="6.6" height="6.6" fill="#111"/>
<text x="406.80" y="569.20" font-size="17.4" text-anchor="start" font-weight="normal" >APC + WT</text>
<text x="98.40" y="906.50" font-size="17" text-anchor="end" font-weight="normal" >0</text>
<text x="98.40" y="865.77" font-size="17" text-anchor="end" font-weight="normal" >20</text>
<text x="98.40" y="825.03" font-size="17" text-anchor="end" font-weight="normal" >40</text>
<text x="98.40" y="784.30" font-size="17" text-anchor="end" font-weight="normal" >60</text>
<text x="98.40" y="743.57" font-size="17" text-anchor="end" font-weight="normal" >80</text>
<text x="98.40" y="702.83" font-size="17" text-anchor="end" font-weight="normal" >100</text>
<text x="98.40" y="662.10" font-size="17" text-anchor="end" font-weight="normal" >120</text>
<text x="103.70" y="921.60" font-size="17" text-anchor="middle" font-weight="normal" >0</text>
<text x="170.62" y="921.60" font-size="17" text-anchor="middle" font-weight="normal" >5</text>
<text x="237.55" y="921.60" font-size="17" text-anchor="middle" font-weight="normal" >10</text>
<text x="304.47" y="921.60" font-size="17" text-anchor="middle" font-weight="normal" >15</text>
<text x="371.40" y="921.60" font-size="17" text-anchor="middle" font-weight="normal" >20</text>
<text transform="translate(58.15,909.70) rotate(-90)" x="0" y="0" font-size="19">FVa R506Q/R679Q activity (%)</text>
<text x="190.70" y="945.80" font-size="19.2" text-anchor="start" font-weight="normal" >Time (min)</text>
<line x1="104.50" y1="706.30" x2="371.00" y2="706.30" stroke="#111" stroke-width="1.3"/>
<path d="M103.70,697.15 L103.70,697.15 L103.75,697.19 L103.75,697.19 L103.75,697.19 L103.76,697.20 L103.76,697.20 L103.76,697.20 L103.76,697.20 L103.77,697.20 L103.77,697.21 L103.77,697.21 L103.78,697.21 L103.78,697.22 L103.78,697.22 L103.79,697.22 L103.79,697.22 L103.80,697.23 L103.80,697.23 L103.80,697.24 L103.81,697.24 L103.81,697.24 L103.82,697.25 L103.82,697.25 L103.83,697.26 L103.83,697.26 L103.84,697.27 L103.85,697.27 L103.85,697.28 L103.86,697.28 L103.87,697.29 L103.87,697.30 L103.88,697.30 L103.89,697.31 L103.90,697.32 L103.91,697.32 L103.92,697.33 L103.93,697.34 L103.94,697.35 L103.95,697.36 L103.96,697.37 L103.97,697.38 L103.98,697.39 L103.99,697.40 L104.01,697.41 L104.02,697.42 L104.03,697.43 L104.05,697.44 L104.06,697.46 L104.08,697.47 L104.10,697.48 L104.11,697.50 L104.13,697.51 L104.15,697.53 L104.17,697.55 L104.19,697.56 L104.21,697.58 L104.24,697.60 L104.26,697.62 L104.28,697.64 L104.31,697.66 L104.34,697.69 L104.37,697.71 L104.39,697.73 L104.43,697.76 L104.46,697.79 L104.49,697.81 L104.53,697.84 L104.56,697.87 L104.60,697.91 L104.64,697.94 L104.68,697.97 L104.72,698.01 L104.77,698.05 L104.82,698.08 L104.87,698.13 L104.92,698.17 L104.97,698.21 L105.03,698.26 L105.04,698.27 L105.09,698.31 L105.15,698.35 L105.21,698.41 L105.28,698.46 L105.35,698.52 L105.42,698.58 L105.49,698.64 L105.57,698.70 L105.66,698.77 L105.74,698.84 L105.83,698.91 L105.93,698.98 L106.02,699.06 L106.13,699.14 L106.23,699.23 L106.35,699.31 L106.39,699.34 L106.46,699.40 L106.58,699.50 L106.71,699.60 L106.84,699.70 L106.98,699.81 L107.13,699.92 L107.28,700.03 L107.44,700.15 L107.60,700.27 L107.73,700.37 L107.77,700.40 L107.95,700.54 L108.14,700.68 L108.33,700.82 L108.54,700.97 L108.75,701.12 L108.97,701.28 L109.07,701.35 L109.21,701.45 L109.45,701.62 L109.70,701.80 L109.97,701.98 L110.24,702.17 L110.42,702.29 L110.53,702.37 L110.83,702.58 L111.15,702.79 L111.48,703.01 L111.76,703.19 L111.82,703.23 L112.18,703.46 L112.55,703.70 L112.94,703.95 L113.10,704.05 L113.35,704.21 L113.77,704.47 L114.22,704.74 L114.45,704.88 L114.68,705.02 L115.17,705.31 L115.67,705.60 L115.79,705.67 L116.20,705.91 L116.75,706.22 L117.13,706.43 L117.33,706.54 L117.93,706.87 L118.48,707.16 L118.55,707.20 L119.21,707.55 L119.82,707.87 L119.89,707.90 L120.61,708.26 L121.16,708.54 L121.35,708.63 L122.13,709.01 L122.51,709.19 L122.94,709.40 L123.79,709.79 L123.85,709.82 L124.68,710.19 L125.19,710.42 L125.60,710.60 L126.53,711.00 L126.57,711.02 L127.57,711.44 L127.88,711.57 L128.63,711.87 L129.22,712.11 L129.72,712.31 L130.56,712.63 L130.87,712.75 L131.91,713.14 L132.07,713.20 L133.25,713.63 L133.32,713.66 L134.59,714.11 L134.62,714.12 L135.94,714.57 L135.99,714.58 L137.28,715.01 L137.41,715.06 L138.62,715.45 L138.90,715.53 L139.97,715.87 L140.45,716.02 L141.31,716.28 L142.07,716.50 L142.65,716.67 L143.76,716.99 L144.00,717.06 L145.34,717.44 L145.53,717.49 L146.68,717.81 L147.37,717.99 L148.03,718.16 L149.29,718.49 L149.37,718.51 L150.71,718.85 L151.30,719.00 L152.06,719.18 L153.40,719.51 L153.40,719.51 L154.74,719.82 L155.59,720.02 L156.09,720.13 L157.43,720.44 L157.88,720.54 L158.77,720.73 L160.12,721.03 L160.27,721.06 L161.46,721.31 L162.76,721.58 L162.80,721.59 L164.14,721.86 L165.37,722.11 L165.49,722.13 L166.83,722.39 L168.08,722.63 L168.17,722.65 L169.52,722.91 L170.86,723.16 L170.92,723.17 L172.20,723.40 L173.55,723.64 L173.89,723.70 L174.89,723.88 L176.23,724.11 L176.98,724.24 L177.58,724.34 L178.92,724.57 L180.21,724.78 L180.26,724.79 L181.61,725.01 L182.95,725.22 L183.58,725.32 L184.29,725.43 L185.64,725.64 L186.98,725.85 L187.10,725.87 L188.32,726.05 L189.67,726.25 L190.78,726.42 L191.01,726.45 L192.35,726.65 L193.70,726.84 L194.62,726.97 L195.04,727.03 L196.38,727.22 L197.73,727.40 L198.63,727.53 L199.07,727.59 L200.41,727.77 L201.75,727.94 L202.81,728.08 L203.10,728.12 L204.44,728.29 L205.78,728.47 L207.13,728.64 L207.18,728.64 L208.47,728.80 L209.81,728.97 L211.16,729.13 L211.74,729.21 L212.50,729.30 L213.84,729.46 L215.19,729.62 L216.50,729.77 L216.53,729.77 L217.87,729.93 L219.22,730.08 L220.56,730.23 L221.48,730.33 L221.90,730.38 L223.25,730.53 L224.59,730.68 L225.93,730.82 L226.67,730.90 L227.28,730.96 L228.62,731.11 L229.96,731.25 L231.31,731.39 L232.09,731.47 L232.65,731.52 L233.99,731.66 L235.34,731.79 L236.68,731.93 L237.75,732.03 L238.02,732.06 L239.36,732.19 L240.71,732.32 L242.05,732.45 L243.39,732.57 L243.66,732.60 L244.74,732.70 L246.08,732.82 L247.42,732.95 L248.77,733.07 L249.83,733.16 L250.11,733.19 L251.45,733.31 L252.80,733.42 L254.14,733.54 L255.48,733.66 L256.27,733.72 L256.83,733.77 L258.17,733.88 L259.51,734.00 L260.86,734.11 L262.20,734.22 L262.99,734.28 L263.54,734.32 L264.89,734.43 L266.23,734.54 L267.57,734.64 L268.92,734.75 L270.01,734.83 L270.26,734.85 L271.60,734.95 L272.95,735.06 L274.29,735.16 L275.63,735.26 L276.97,735.35 L277.34,735.38 L278.32,735.45 L279.66,735.55 L281.00,735.64 L282.35,735.74 L283.69,735.83 L285.00,735.92 L285.03,735.92 L286.38,736.02 L287.72,736.11 L289.06,736.20 L290.41,736.29 L291.75,736.37 L292.99,736.46 L293.09,736.46 L294.44,736.55 L295.78,736.63 L297.12,736.72 L298.47,736.80 L299.81,736.89 L301.15,736.97 L301.33,736.98 L302.50,737.05 L303.84,737.13 L305.18,737.21 L306.53,737.29 L307.87,737.37 L309.21,737.45 L310.05,737.49 L310.56,737.52 L311.90,737.60 L313.24,737.68 L314.58,737.75 L315.93,737.82 L317.27,737.90 L318.61,737.97 L319.14,738.00 L319.96,738.04 L321.30,738.11 L322.64,738.18 L323.99,738.25 L325.33,738.32 L326.67,738.39 L328.02,738.46 L328.64,738.49 L329.36,738.53 L330.70,738.59 L332.05,738.66 L333.39,738.72 L334.73,738.79 L336.08,738.85 L337.42,738.91 L338.55,738.97 L338.76,738.98 L340.11,739.04 L341.45,739.10 L342.79,739.16 L344.14,739.22 L345.48,739.28 L346.82,739.34 L348.17,739.40 L348.91,739.43 L349.51,739.46 L350.85,739.51 L352.19,739.57 L353.54,739.63 L354.88,739.68 L356.22,739.74 L357.57,739.79 L358.91,739.85 L359.71,739.88 L360.25,739.90 L361.60,739.95 L362.94,740.01 L364.28,740.06 L365.63,740.11 L366.97,740.16 L368.31,740.21 L369.66,740.26 L371.00,740.31" fill="none" stroke="#111" stroke-width="1.3" stroke-linejoin="round"/>
<path d="M103.70,697.23 L103.70,697.23 L103.75,697.29 L103.75,697.29 L103.75,697.29 L103.76,697.30 L103.76,697.30 L103.76,697.30 L103.76,697.31 L103.77,697.31 L103.77,697.31 L103.77,697.32 L103.78,697.32 L103.78,697.33 L103.78,697.33 L103.79,697.34 L103.79,697.34 L103.80,697.34 L103.80,697.35 L103.80,697.36 L103.81,697.36 L103.81,697.37 L103.82,697.37 L103.82,697.38 L103.83,697.39 L103.83,697.39 L103.84,697.40 L103.85,697.41 L103.85,697.42 L103.86,697.42 L103.87,697.43 L103.87,697.44 L103.88,697.45 L103.89,697.46 L103.90,697.47 L103.91,697.48 L103.92,697.49 L103.93,697.50 L103.94,697.52 L103.95,697.53 L103.96,697.54 L103.97,697.55 L103.98,697.57 L103.99,697.58 L104.01,697.60 L104.02,697.62 L104.03,697.63 L104.05,697.65 L104.06,697.67 L104.08,697.69 L104.10,697.71 L104.11,697.73 L104.13,697.75 L104.15,697.77 L104.17,697.80 L104.19,697.82 L104.21,697.85 L104.24,697.88 L104.26,697.90 L104.28,697.93 L104.31,697.97 L104.34,698.00 L104.37,698.03 L104.39,698.07 L104.43,698.10 L104.46,698.14 L104.49,698.18 L104.53,698.22 L104.56,698.26 L104.60,698.31 L104.64,698.36 L104.68,698.41 L104.72,698.46 L104.77,698.51 L104.82,698.57 L104.87,698.62 L104.92,698.68 L104.97,698.75 L105.03,698.81 L105.04,698.83 L105.09,698.88 L105.15,698.95 L105.21,699.03 L105.28,699.10 L105.35,699.18 L105.42,699.27 L105.49,699.36 L105.57,699.45 L105.66,699.54 L105.74,699.64 L105.83,699.74 L105.93,699.85 L106.02,699.96 L106.13,700.08 L106.23,700.20 L106.35,700.32 L106.39,700.37 L106.46,700.46 L106.58,700.59 L106.71,700.73 L106.84,700.88 L106.98,701.03 L107.13,701.19 L107.28,701.36 L107.44,701.53 L107.60,701.71 L107.73,701.85 L107.77,701.90 L107.95,702.09 L108.14,702.29 L108.33,702.50 L108.54,702.71 L108.75,702.94 L108.97,703.17 L109.07,703.27 L109.21,703.41 L109.45,703.66 L109.70,703.92 L109.97,704.19 L110.24,704.47 L110.42,704.64 L110.53,704.76 L110.83,705.06 L111.15,705.37 L111.48,705.69 L111.76,705.96 L111.82,706.02 L112.18,706.37 L112.55,706.72 L112.94,707.09 L113.10,707.24 L113.35,707.47 L113.77,707.86 L114.22,708.26 L114.45,708.47 L114.68,708.68 L115.17,709.11 L115.67,709.56 L115.79,709.66 L116.20,710.01 L116.75,710.49 L117.13,710.81 L117.33,710.97 L117.93,711.47 L118.48,711.92 L118.55,711.99 L119.21,712.52 L119.82,713.00 L119.89,713.06 L120.61,713.62 L121.16,714.05 L121.35,714.19 L122.13,714.78 L122.51,715.07 L122.94,715.39 L123.79,716.01 L123.85,716.05 L124.68,716.65 L125.19,717.01 L125.60,717.30 L126.53,717.95 L126.57,717.97 L127.57,718.65 L127.88,718.86 L128.63,719.35 L129.22,719.74 L129.72,720.07 L130.56,720.61 L130.87,720.80 L131.91,721.45 L132.07,721.55 L133.25,722.27 L133.32,722.31 L134.59,723.08 L134.62,723.09 L135.94,723.86 L135.99,723.89 L137.28,724.63 L137.41,724.70 L138.62,725.38 L138.90,725.53 L139.97,726.12 L140.45,726.38 L141.31,726.84 L142.07,727.24 L142.65,727.55 L143.76,728.12 L144.00,728.24 L145.34,728.92 L145.53,729.01 L146.68,729.59 L147.37,729.92 L148.03,730.24 L149.29,730.85 L149.37,730.88 L150.71,731.52 L151.30,731.79 L152.06,732.14 L153.40,732.75 L153.40,732.75 L154.74,733.35 L155.59,733.72 L156.09,733.94 L157.43,734.52 L157.88,734.71 L158.77,735.09 L160.12,735.65 L160.27,735.72 L161.46,736.21 L162.76,736.74 L162.80,736.75 L164.14,737.29 L165.37,737.77 L165.49,737.82 L166.83,738.34 L168.08,738.82 L168.17,738.85 L169.52,739.36 L170.86,739.86 L170.92,739.88 L172.20,740.35 L173.55,740.84 L173.89,740.96 L174.89,741.32 L176.23,741.79 L176.98,742.05 L177.58,742.26 L178.92,742.72 L180.21,743.16 L180.26,743.17 L181.61,743.62 L182.95,744.07 L183.58,744.27 L184.29,744.50 L185.64,744.93 L186.98,745.36 L187.10,745.40 L188.32,745.78 L189.67,746.20 L190.78,746.54 L191.01,746.60 L192.35,747.01 L193.70,747.41 L194.62,747.68 L195.04,747.80 L196.38,748.19 L197.73,748.58 L198.63,748.83 L199.07,748.96 L200.41,749.34 L201.75,749.71 L202.81,750.00 L203.10,750.07 L204.44,750.44 L205.78,750.79 L207.13,751.15 L207.18,751.16 L208.47,751.50 L209.81,751.84 L211.16,752.18 L211.74,752.33 L212.50,752.52 L213.84,752.85 L215.19,753.18 L216.50,753.50 L216.53,753.51 L217.87,753.83 L219.22,754.14 L220.56,754.46 L221.48,754.67 L221.90,754.77 L223.25,755.07 L224.59,755.38 L225.93,755.68 L226.67,755.84 L227.28,755.97 L228.62,756.26 L229.96,756.55 L231.31,756.84 L232.09,757.00 L232.65,757.12 L233.99,757.40 L235.34,757.68 L236.68,757.95 L237.75,758.16 L238.02,758.22 L239.36,758.48 L240.71,758.75 L242.05,759.01 L243.39,759.26 L243.66,759.31 L244.74,759.52 L246.08,759.77 L247.42,760.02 L248.77,760.26 L249.83,760.45 L250.11,760.50 L251.45,760.74 L252.80,760.98 L254.14,761.21 L255.48,761.44 L256.27,761.58 L256.83,761.67 L258.17,761.90 L259.51,762.12 L260.86,762.34 L262.20,762.56 L262.99,762.69 L263.54,762.78 L264.89,762.99 L266.23,763.20 L267.57,763.41 L268.92,763.61 L270.01,763.78 L270.26,763.82 L271.60,764.02 L272.95,764.22 L274.29,764.41 L275.63,764.61 L276.97,764.80 L277.34,764.85 L278.32,764.99 L279.66,765.18 L281.00,765.36 L282.35,765.54 L283.69,765.73 L285.00,765.90 L285.03,765.90 L286.38,766.08 L287.72,766.26 L289.06,766.43 L290.41,766.60 L291.75,766.77 L292.99,766.92 L293.09,766.94 L294.44,767.10 L295.78,767.26 L297.12,767.42 L298.47,767.58 L299.81,767.74 L301.15,767.90 L301.33,767.92 L302.50,768.05 L303.84,768.20 L305.18,768.35 L306.53,768.50 L307.87,768.65 L309.21,768.79 L310.05,768.88 L310.56,768.94 L311.90,769.08 L313.24,769.22 L314.58,769.36 L315.93,769.50 L317.27,769.63 L318.61,769.76 L319.14,769.82 L319.96,769.90 L321.30,770.03 L322.64,770.16 L323.99,770.28 L325.33,770.41 L326.67,770.54 L328.02,770.66 L328.64,770.72 L329.36,770.78 L330.70,770.90 L332.05,771.02 L333.39,771.14 L334.73,771.26 L336.08,771.37 L337.42,771.48 L338.55,771.58 L338.76,771.60 L340.11,771.71 L341.45,771.82 L342.79,771.93 L344.14,772.03 L345.48,772.14 L346.82,772.24 L348.17,772.35 L348.91,772.40 L349.51,772.45 L350.85,772.55 L352.19,772.65 L353.54,772.75 L354.88,772.85 L356.22,772.95 L357.57,773.04 L358.91,773.14 L359.71,773.19 L360.25,773.23 L361.60,773.32 L362.94,773.41 L364.28,773.50 L365.63,773.59 L366.97,773.68 L368.31,773.77 L369.66,773.85 L371.00,773.94" fill="none" stroke="#111" stroke-width="1.3" stroke-linejoin="round"/>
<path d="M103.70,696.21 L103.70,696.21 L103.75,696.65 L103.75,696.66 L103.75,696.68 L103.76,696.70 L103.76,696.73 L103.76,696.75 L103.76,696.77 L103.77,696.80 L103.77,696.82 L103.77,696.85 L103.78,696.88 L103.78,696.91 L103.78,696.94 L103.79,696.97 L103.79,697.00 L103.80,697.04 L103.80,697.07 L103.80,697.11 L103.81,697.15 L103.81,697.19 L103.82,697.23 L103.82,697.28 L103.83,697.32 L103.83,697.37 L103.84,697.42 L103.85,697.48 L103.85,697.53 L103.86,697.59 L103.87,697.65 L103.87,697.71 L103.88,697.78 L103.89,697.84 L103.90,697.92 L103.91,697.99 L103.92,698.07 L103.93,698.15 L103.94,698.23 L103.95,698.32 L103.96,698.41 L103.97,698.51 L103.98,698.60 L103.99,698.71 L104.01,698.82 L104.02,698.93 L104.03,699.05 L104.05,699.17 L104.06,699.30 L104.08,699.43 L104.10,699.57 L104.11,699.71 L104.13,699.86 L104.15,700.02 L104.17,700.18 L104.19,700.35 L104.21,700.53 L104.24,700.71 L104.26,700.90 L104.28,701.10 L104.31,701.31 L104.34,701.52 L104.37,701.75 L104.39,701.98 L104.43,702.22 L104.46,702.48 L104.49,702.74 L104.53,703.01 L104.56,703.30 L104.60,703.59 L104.64,703.90 L104.68,704.22 L104.72,704.55 L104.77,704.89 L104.82,705.25 L104.87,705.62 L104.92,706.01 L104.97,706.41 L105.03,706.82 L105.04,706.94 L105.09,707.25 L105.15,707.70 L105.21,708.16 L105.28,708.64 L105.35,709.13 L105.42,709.64 L105.49,710.18 L105.57,710.73 L105.66,711.29 L105.74,711.88 L105.83,712.49 L105.93,713.12 L106.02,713.77 L106.13,714.44 L106.23,715.13 L106.35,715.84 L106.39,716.11 L106.46,716.58 L106.58,717.34 L106.71,718.12 L106.84,718.93 L106.98,719.76 L107.13,720.61 L107.28,721.48 L107.44,722.39 L107.60,723.31 L107.73,724.03 L107.77,724.26 L107.95,725.24 L108.14,726.24 L108.33,727.26 L108.54,728.31 L108.75,729.39 L108.97,730.49 L109.07,730.97 L109.21,731.62 L109.45,732.77 L109.70,733.94 L109.97,735.14 L110.24,736.37 L110.42,737.11 L110.53,737.62 L110.83,738.89 L111.15,740.19 L111.48,741.51 L111.76,742.62 L111.82,742.86 L112.18,744.23 L112.55,745.62 L112.94,747.04 L113.10,747.61 L113.35,748.48 L113.77,749.94 L114.22,751.42 L114.45,752.17 L114.68,752.93 L115.17,754.46 L115.67,756.01 L115.79,756.36 L116.20,757.59 L116.75,759.18 L117.13,760.26 L117.33,760.80 L117.93,762.44 L118.48,763.89 L118.55,764.10 L119.21,765.78 L119.82,767.30 L119.89,767.48 L120.61,769.21 L121.16,770.51 L121.35,770.95 L122.13,772.72 L122.51,773.55 L122.94,774.50 L123.79,776.31 L123.85,776.43 L124.68,778.13 L125.19,779.17 L125.60,779.97 L126.53,781.77 L126.57,781.83 L127.57,783.70 L127.88,784.26 L128.63,785.59 L129.22,786.63 L129.72,787.49 L130.56,788.90 L130.87,789.40 L131.91,791.07 L132.07,791.32 L133.25,793.14 L133.32,793.25 L134.59,795.13 L134.62,795.18 L135.94,797.04 L135.99,797.11 L137.28,798.87 L137.41,799.04 L138.62,800.62 L138.90,800.97 L139.97,802.30 L140.45,802.89 L141.31,803.92 L142.07,804.80 L142.65,805.46 L143.76,806.69 L144.00,806.95 L145.34,808.37 L145.53,808.56 L146.68,809.74 L147.37,810.41 L148.03,811.05 L149.29,812.24 L149.37,812.31 L150.71,813.51 L151.30,814.03 L152.06,814.67 L153.40,815.79 L153.40,815.79 L154.74,816.85 L155.59,817.51 L156.09,817.88 L157.43,818.86 L157.88,819.19 L158.77,819.81 L160.12,820.71 L160.27,820.82 L161.46,821.58 L162.76,822.40 L162.80,822.42 L164.14,823.22 L165.37,823.92 L165.49,823.99 L166.83,824.73 L168.08,825.39 L168.17,825.44 L169.52,826.12 L170.86,826.77 L170.92,826.80 L172.20,827.40 L173.55,828.00 L173.89,828.15 L174.89,828.58 L176.23,829.13 L176.98,829.43 L177.58,829.67 L178.92,830.18 L180.21,830.65 L180.26,830.67 L181.61,831.14 L182.95,831.59 L183.58,831.80 L184.29,832.02 L185.64,832.44 L186.98,832.84 L187.10,832.88 L188.32,833.22 L189.67,833.59 L190.78,833.89 L191.01,833.95 L192.35,834.28 L193.70,834.61 L194.62,834.83 L195.04,834.92 L196.38,835.22 L197.73,835.51 L198.63,835.70 L199.07,835.79 L200.41,836.05 L201.75,836.31 L202.81,836.50 L203.10,836.55 L204.44,836.79 L205.78,837.01 L207.13,837.23 L207.18,837.24 L208.47,837.44 L209.81,837.64 L211.16,837.83 L211.74,837.91 L212.50,838.01 L213.84,838.19 L215.19,838.36 L216.50,838.52 L216.53,838.52 L217.87,838.67 L219.22,838.82 L220.56,838.97 L221.48,839.06 L221.90,839.11 L223.25,839.24 L224.59,839.36 L225.93,839.49 L226.67,839.55 L227.28,839.60 L228.62,839.72 L229.96,839.82 L231.31,839.93 L232.09,839.99 L232.65,840.03 L233.99,840.12 L235.34,840.21 L236.68,840.30 L237.75,840.37 L238.02,840.39 L239.36,840.47 L240.71,840.54 L242.05,840.62 L243.39,840.69 L243.66,840.70 L244.74,840.76 L246.08,840.83 L247.42,840.89 L248.77,840.95 L249.83,841.00 L250.11,841.01 L251.45,841.06 L252.80,841.12 L254.14,841.17 L255.48,841.22 L256.27,841.25 L256.83,841.27 L258.17,841.31 L259.51,841.36 L260.86,841.40 L262.20,841.44 L262.99,841.46 L263.54,841.48 L264.89,841.51 L266.23,841.55 L267.57,841.58 L268.92,841.62 L270.01,841.64 L270.26,841.65 L271.60,841.68 L272.95,841.71 L274.29,841.74 L275.63,841.76 L276.97,841.79 L277.34,841.80 L278.32,841.81 L279.66,841.84 L281.00,841.86 L282.35,841.88 L283.69,841.90 L285.00,841.92 L285.03,841.92 L286.38,841.94 L287.72,841.96 L289.06,841.98 L290.41,842.00 L291.75,842.01 L292.99,842.03 L293.09,842.03 L294.44,842.04 L295.78,842.06 L297.12,842.07 L298.47,842.08 L299.81,842.10 L301.15,842.11 L301.33,842.11 L302.50,842.12 L303.84,842.13 L305.18,842.14 L306.53,842.15 L307.87,842.16 L309.21,842.17 L310.05,842.18 L310.56,842.18 L311.90,842.19 L313.24,842.20 L314.58,842.21 L315.93,842.22 L317.27,842.22 L318.61,842.23 L319.14,842.23 L319.96,842.24 L321.30,842.24 L322.64,842.25 L323.99,842.26 L325.33,842.26 L326.67,842.27 L328.02,842.27 L328.64,842.28 L329.36,842.28 L330.70,842.28 L332.05,842.29 L333.39,842.29 L334.73,842.30 L336.08,842.30 L337.42,842.31 L338.55,842.31 L338.76,842.31 L340.11,842.31 L341.45,842.32 L342.79,842.32 L344.14,842.32 L345.48,842.33 L346.82,842.33 L348.17,842.33 L348.91,842.34 L349.51,842.34 L350.85,842.34 L352.19,842.34 L353.54,842.34 L354.88,842.35 L356.22,842.35 L357.57,842.35 L358.91,842.35 L359.71,842.36 L360.25,842.36 L361.60,842.36 L362.94,842.36 L364.28,842.36 L365.63,842.36 L366.97,842.36 L368.31,842.37 L369.66,842.37 L371.00,842.37" fill="none" stroke="#111" stroke-width="1.3" stroke-linejoin="round"/>
<line x1="110.40" y1="692.80" x2="110.40" y2="720.60" stroke="#111" stroke-width="1.3"/>
<line x1="105.90" y1="692.80" x2="114.90" y2="692.80" stroke="#111" stroke-width="1.3"/>
<line x1="105.90" y1="720.60" x2="114.90" y2="720.60" stroke="#111" stroke-width="1.3"/>
<line x1="110.40" y1="693.90" x2="110.40" y2="721.20" stroke="#111" stroke-width="1.3"/>
<line x1="105.90" y1="693.90" x2="114.90" y2="693.90" stroke="#111" stroke-width="1.3"/>
<line x1="105.90" y1="721.20" x2="114.90" y2="721.20" stroke="#111" stroke-width="1.3"/>
<line x1="117.10" y1="700.60" x2="117.10" y2="731.50" stroke="#111" stroke-width="1.3"/>
<line x1="112.60" y1="700.60" x2="121.60" y2="700.60" stroke="#111" stroke-width="1.3"/>
<line x1="112.60" y1="731.50" x2="121.60" y2="731.50" stroke="#111" stroke-width="1.3"/>
<line x1="117.10" y1="703.00" x2="117.10" y2="720.40" stroke="#111" stroke-width="1.3"/>
<line x1="112.60" y1="703.00" x2="121.60" y2="703.00" stroke="#111" stroke-width="1.3"/>
<line x1="112.60" y1="720.40" x2="121.60" y2="720.40" stroke="#111" stroke-width="1.3"/>
<line x1="130.50" y1="701.20" x2="130.50" y2="740.40" stroke="#111" stroke-width="1.3"/>
<line x1="126.00" y1="701.20" x2="135.00" y2="701.20" stroke="#111" stroke-width="1.3"/>
<line x1="126.00" y1="740.40" x2="135.00" y2="740.40" stroke="#111" stroke-width="1.3"/>
<line x1="130.50" y1="707.30" x2="130.50" y2="731.50" stroke="#111" stroke-width="1.3"/>
<line x1="126.00" y1="707.30" x2="135.00" y2="707.30" stroke="#111" stroke-width="1.3"/>
<line x1="126.00" y1="731.50" x2="135.00" y2="731.50" stroke="#111" stroke-width="1.3"/>
<line x1="143.90" y1="697.50" x2="143.90" y2="756.50" stroke="#111" stroke-width="1.3"/>
<line x1="139.40" y1="697.50" x2="148.40" y2="697.50" stroke="#111" stroke-width="1.3"/>
<line x1="139.40" y1="756.50" x2="148.40" y2="756.50" stroke="#111" stroke-width="1.3"/>
<line x1="143.90" y1="700.00" x2="143.90" y2="721.20" stroke="#111" stroke-width="1.3"/>
<line x1="139.40" y1="700.00" x2="148.40" y2="700.00" stroke="#111" stroke-width="1.3"/>
<line x1="139.40" y1="721.20" x2="148.40" y2="721.20" stroke="#111" stroke-width="1.3"/>
<line x1="143.90" y1="702.30" x2="143.90" y2="704.20" stroke="#111" stroke-width="1.3"/>
<line x1="139.40" y1="702.30" x2="148.40" y2="702.30" stroke="#111" stroke-width="1.3"/>
<line x1="139.40" y1="704.20" x2="148.40" y2="704.20" stroke="#111" stroke-width="1.3"/>
<line x1="170.60" y1="694.60" x2="170.60" y2="707.30" stroke="#111" stroke-width="1.3"/>
<line x1="166.10" y1="694.60" x2="175.10" y2="694.60" stroke="#111" stroke-width="1.3"/>
<line x1="166.10" y1="707.30" x2="175.10" y2="707.30" stroke="#111" stroke-width="1.3"/>
<line x1="170.60" y1="696.00" x2="170.60" y2="709.30" stroke="#111" stroke-width="1.3"/>
<line x1="166.10" y1="696.00" x2="175.10" y2="696.00" stroke="#111" stroke-width="1.3"/>
<line x1="166.10" y1="709.30" x2="175.10" y2="709.30" stroke="#111" stroke-width="1.3"/>
<line x1="170.60" y1="722.00" x2="170.60" y2="762.50" stroke="#111" stroke-width="1.3"/>
<line x1="166.10" y1="722.00" x2="175.10" y2="722.00" stroke="#111" stroke-width="1.3"/>
<line x1="166.10" y1="762.50" x2="175.10" y2="762.50" stroke="#111" stroke-width="1.3"/>
<line x1="237.00" y1="715.00" x2="237.00" y2="734.80" stroke="#111" stroke-width="1.3"/>
<line x1="232.50" y1="715.00" x2="241.50" y2="715.00" stroke="#111" stroke-width="1.3"/>
<line x1="232.50" y1="734.80" x2="241.50" y2="734.80" stroke="#111" stroke-width="1.3"/>
<line x1="237.00" y1="728.80" x2="237.00" y2="775.00" stroke="#111" stroke-width="1.3"/>
<line x1="232.50" y1="728.80" x2="241.50" y2="728.80" stroke="#111" stroke-width="1.3"/>
<line x1="232.50" y1="775.00" x2="241.50" y2="775.00" stroke="#111" stroke-width="1.3"/>
<line x1="371.00" y1="720.10" x2="371.00" y2="745.40" stroke="#111" stroke-width="1.3"/>
<line x1="366.50" y1="720.10" x2="375.50" y2="720.10" stroke="#111" stroke-width="1.3"/>
<line x1="366.50" y1="745.40" x2="375.50" y2="745.40" stroke="#111" stroke-width="1.3"/>
<line x1="371.00" y1="765.30" x2="371.00" y2="806.80" stroke="#111" stroke-width="1.3"/>
<line x1="366.50" y1="765.30" x2="375.50" y2="765.30" stroke="#111" stroke-width="1.3"/>
<line x1="366.50" y1="806.80" x2="375.50" y2="806.80" stroke="#111" stroke-width="1.3"/>
<line x1="109.50" y1="732.10" x2="109.50" y2="764.10" stroke="#111" stroke-width="1.3"/>
<line x1="105.00" y1="732.10" x2="114.00" y2="732.10" stroke="#111" stroke-width="1.3"/>
<line x1="105.00" y1="764.10" x2="114.00" y2="764.10" stroke="#111" stroke-width="1.3"/>
<line x1="116.40" y1="745.60" x2="116.40" y2="783.10" stroke="#111" stroke-width="1.3"/>
<line x1="111.90" y1="745.60" x2="120.90" y2="745.60" stroke="#111" stroke-width="1.3"/>
<line x1="111.90" y1="783.10" x2="120.90" y2="783.10" stroke="#111" stroke-width="1.3"/>
<line x1="129.80" y1="774.10" x2="129.80" y2="805.30" stroke="#111" stroke-width="1.3"/>
<line x1="125.30" y1="774.10" x2="134.30" y2="774.10" stroke="#111" stroke-width="1.3"/>
<line x1="125.30" y1="805.30" x2="134.30" y2="805.30" stroke="#111" stroke-width="1.3"/>
<line x1="143.30" y1="781.60" x2="143.30" y2="822.90" stroke="#111" stroke-width="1.3"/>
<line x1="138.80" y1="781.60" x2="147.80" y2="781.60" stroke="#111" stroke-width="1.3"/>
<line x1="138.80" y1="822.90" x2="147.80" y2="822.90" stroke="#111" stroke-width="1.3"/>
<line x1="170.10" y1="801.00" x2="170.10" y2="834.20" stroke="#111" stroke-width="1.3"/>
<line x1="165.60" y1="801.00" x2="174.60" y2="801.00" stroke="#111" stroke-width="1.3"/>
<line x1="165.60" y1="834.20" x2="174.60" y2="834.20" stroke="#111" stroke-width="1.3"/>
<line x1="237.00" y1="826.90" x2="237.00" y2="847.30" stroke="#111" stroke-width="1.3"/>
<line x1="232.50" y1="826.90" x2="241.50" y2="826.90" stroke="#111" stroke-width="1.3"/>
<line x1="232.50" y1="847.30" x2="241.50" y2="847.30" stroke="#111" stroke-width="1.3"/>
<line x1="371.00" y1="842.00" x2="371.00" y2="863.00" stroke="#111" stroke-width="1.3"/>
<line x1="366.50" y1="842.00" x2="375.50" y2="842.00" stroke="#111" stroke-width="1.3"/>
<line x1="366.50" y1="863.00" x2="375.50" y2="863.00" stroke="#111" stroke-width="1.3"/>
<rect x="106.30" y="675.90" width="6.20" height="6.20" fill="#fff" stroke="#111" stroke-width="1.2"/>
<rect x="139.50" y="705.40" width="6.20" height="6.20" fill="#fff" stroke="#111" stroke-width="1.2"/>
<rect x="166.90" y="697.70" width="6.20" height="6.20" fill="#fff" stroke="#111" stroke-width="1.2"/>
<rect x="233.80" y="694.90" width="6.20" height="6.20" fill="#fff" stroke="#111" stroke-width="1.2"/>
<rect x="367.80" y="700.90" width="6.20" height="6.20" fill="#fff" stroke="#111" stroke-width="1.2"/>
<circle cx="103.70" cy="697.00" r="3.4" fill="#111"/>
<circle cx="109.60" cy="707.70" r="3.4" fill="#111"/>
<circle cx="117.10" cy="712.50" r="3.4" fill="#111"/>
<circle cx="130.40" cy="715.40" r="3.4" fill="#111"/>
<circle cx="143.90" cy="713.50" r="3.4" fill="#111"/>
<circle cx="170.10" cy="723.10" r="3.4" fill="#111"/>
<circle cx="236.80" cy="724.00" r="3.4" fill="#111"/>
<circle cx="370.80" cy="741.80" r="3.4" fill="#111"/>
<path d="M103.70,693.60 L107.90,701.40 L99.50,701.40 Z" fill="#111"/>
<path d="M110.40,708.60 L114.60,716.40 L106.20,716.40 Z" fill="#111"/>
<path d="M116.50,711.50 L120.70,719.30 L112.30,719.30 Z" fill="#111"/>
<path d="M130.40,718.40 L134.60,726.20 L126.20,726.20 Z" fill="#111"/>
<path d="M143.90,725.60 L148.10,733.40 L139.70,733.40 Z" fill="#111"/>
<path d="M170.10,738.10 L174.30,745.90 L165.90,745.90 Z" fill="#111"/>
<path d="M237.50,748.10 L241.70,755.90 L233.30,755.90 Z" fill="#111"/>
<path d="M370.80,773.10 L375.00,780.90 L366.60,780.90 Z" fill="#111"/>
<rect x="99.30" y="692.80" width="7.0" height="7.0" fill="#111"/>
<rect x="106.00" y="737.70" width="7.0" height="7.0" fill="#111"/>
<rect x="112.90" y="760.20" width="7.0" height="7.0" fill="#111"/>
<rect x="126.30" y="785.30" width="7.0" height="7.0" fill="#111"/>
<rect x="139.80" y="798.00" width="7.0" height="7.0" fill="#111"/>
<rect x="166.60" y="813.40" width="7.0" height="7.0" fill="#111"/>
<rect x="233.50" y="833.40" width="7.0" height="7.0" fill="#111"/>
<rect x="367.30" y="848.40" width="7.0" height="7.0" fill="#111"/>
<rect x="398.40" y="700.10" width="6.20" height="6.20" fill="#fff" stroke="#111" stroke-width="1.2"/>
<text x="415.10" y="709.70" font-size="17.3" text-anchor="start" font-weight="normal" >No APC</text>
<circle cx="402.00" cy="738.90" r="3.3" fill="#111"/>
<text x="416.50" y="745.10" font-size="17.3" text-anchor="start" font-weight="normal" >APC</text>
<path d="M403.20,773.10 L407.40,780.90 L399.00,780.90 Z" fill="#111"/>
<text x="416.50" y="781.50" font-size="17.1" text-anchor="start" font-weight="normal" >APC + E36A</text>
<rect x="401.00" y="837.90" width="6.6" height="6.6" fill="#111"/>
<text x="418.80" y="847.70" font-size="17.4" text-anchor="start" font-weight="normal" >APC + WT</text>
<text x="98.60" y="1221.60" font-size="17" text-anchor="end" font-weight="normal" >0</text>
<text x="98.60" y="1180.73" font-size="17" text-anchor="end" font-weight="normal" >20</text>
<text x="98.60" y="1139.87" font-size="17" text-anchor="end" font-weight="normal" >40</text>
<text x="98.60" y="1099.00" font-size="17" text-anchor="end" font-weight="normal" >60</text>
<text x="98.60" y="1058.13" font-size="17" text-anchor="end" font-weight="normal" >80</text>
<text x="98.60" y="1017.27" font-size="17" text-anchor="end" font-weight="normal" >100</text>
<text x="98.60" y="976.40" font-size="17" text-anchor="end" font-weight="normal" >120</text>
<text x="104.40" y="1237.20" font-size="17" text-anchor="middle" font-weight="normal" >0</text>
<text x="171.40" y="1237.20" font-size="17" text-anchor="middle" font-weight="normal" >25</text>
<text x="238.40" y="1237.20" font-size="17" text-anchor="middle" font-weight="normal" >50</text>
<text x="305.40" y="1237.20" font-size="17" text-anchor="middle" font-weight="normal" >75</text>
<text x="372.40" y="1237.20" font-size="17" text-anchor="middle" font-weight="normal" >100</text>
<text transform="translate(60.20,1166.60) rotate(-90)" x="0" y="0" font-size="19">FVIIIa activity (%)</text>
<text x="174.70" y="1261.50" font-size="19.2" text-anchor="start" font-weight="normal" >Protein S (nM)</text>
<path d="M104.40,1017.11 L104.40,1017.11 L104.45,1017.11 L104.45,1017.11 L104.45,1017.11 L104.46,1017.11 L104.46,1017.11 L104.46,1017.11 L104.46,1017.11 L104.47,1017.11 L104.47,1017.11 L104.47,1017.11 L104.48,1017.11 L104.48,1017.11 L104.48,1017.11 L104.49,1017.11 L104.49,1017.11 L104.50,1017.11 L104.50,1017.11 L104.50,1017.11 L104.51,1017.11 L104.51,1017.11 L104.52,1017.12 L104.52,1017.12 L104.53,1017.12 L104.53,1017.12 L104.54,1017.12 L104.55,1017.12 L104.55,1017.12 L104.56,1017.12 L104.57,1017.12 L104.57,1017.12 L104.58,1017.12 L104.59,1017.12 L104.60,1017.12 L104.61,1017.12 L104.62,1017.12 L104.63,1017.12 L104.64,1017.12 L104.65,1017.12 L104.66,1017.12 L104.67,1017.12 L104.68,1017.12 L104.69,1017.12 L104.71,1017.13 L104.72,1017.13 L104.73,1017.13 L104.75,1017.13 L104.76,1017.13 L104.78,1017.13 L104.80,1017.13 L104.81,1017.13 L104.83,1017.13 L104.85,1017.13 L104.87,1017.13 L104.89,1017.14 L104.91,1017.14 L104.94,1017.14 L104.96,1017.14 L104.98,1017.14 L105.01,1017.14 L105.04,1017.14 L105.07,1017.14 L105.10,1017.15 L105.13,1017.15 L105.16,1017.15 L105.19,1017.15 L105.23,1017.15 L105.26,1017.16 L105.30,1017.16 L105.34,1017.16 L105.38,1017.16 L105.43,1017.16 L105.47,1017.17 L105.52,1017.17 L105.57,1017.17 L105.62,1017.17 L105.67,1017.18 L105.73,1017.18 L105.75,1017.18 L105.79,1017.18 L105.85,1017.19 L105.91,1017.19 L105.98,1017.19 L106.05,1017.20 L106.12,1017.20 L106.20,1017.21 L106.28,1017.21 L106.36,1017.21 L106.44,1017.22 L106.53,1017.22 L106.63,1017.23 L106.73,1017.23 L106.83,1017.24 L106.94,1017.25 L107.05,1017.25 L107.09,1017.25 L107.17,1017.26 L107.29,1017.26 L107.41,1017.27 L107.55,1017.28 L107.69,1017.29 L107.83,1017.29 L107.98,1017.30 L108.14,1017.31 L108.31,1017.32 L108.44,1017.33 L108.48,1017.33 L108.66,1017.34 L108.85,1017.35 L109.04,1017.36 L109.25,1017.37 L109.46,1017.38 L109.68,1017.39 L109.79,1017.40 L109.92,1017.41 L110.16,1017.42 L110.41,1017.43 L110.68,1017.45 L110.95,1017.46 L111.13,1017.47 L111.24,1017.48 L111.55,1017.49 L111.86,1017.51 L112.19,1017.53 L112.48,1017.54 L112.53,1017.55 L112.89,1017.57 L113.27,1017.59 L113.66,1017.61 L113.83,1017.62 L114.06,1017.63 L114.49,1017.65 L114.94,1017.68 L115.17,1017.69 L115.40,1017.70 L115.89,1017.73 L116.39,1017.75 L116.52,1017.76 L116.92,1017.78 L117.47,1017.81 L117.87,1017.83 L118.05,1017.84 L118.65,1017.88 L119.21,1017.91 L119.28,1017.91 L119.94,1017.95 L120.56,1017.98 L120.62,1017.98 L121.34,1018.02 L121.91,1018.05 L122.08,1018.06 L122.86,1018.10 L123.25,1018.12 L123.68,1018.15 L124.53,1018.19 L124.60,1018.20 L125.41,1018.24 L125.95,1018.27 L126.34,1018.29 L127.29,1018.34 L127.31,1018.34 L128.32,1018.40 L128.64,1018.42 L129.37,1018.46 L129.99,1018.49 L130.47,1018.51 L131.33,1018.56 L131.62,1018.58 L132.68,1018.63 L132.82,1018.64 L134.03,1018.71 L134.08,1018.71 L135.37,1018.78 L135.39,1018.78 L136.72,1018.85 L136.75,1018.85 L138.07,1018.93 L138.18,1018.93 L139.42,1019.00 L139.67,1019.01 L140.76,1019.07 L141.22,1019.10 L142.11,1019.14 L142.85,1019.18 L143.46,1019.22 L144.54,1019.27 L144.80,1019.29 L146.15,1019.36 L146.31,1019.37 L147.50,1019.43 L148.16,1019.47 L148.84,1019.51 L150.09,1019.57 L150.19,1019.58 L151.54,1019.65 L152.10,1019.68 L152.88,1019.73 L154.21,1019.80 L154.23,1019.80 L155.58,1019.87 L156.40,1019.92 L156.92,1019.94 L158.27,1020.02 L158.70,1020.04 L159.62,1020.09 L160.96,1020.16 L161.09,1020.17 L162.31,1020.23 L163.59,1020.30 L163.66,1020.31 L165.00,1020.38 L166.20,1020.44 L166.35,1020.45 L167.70,1020.53 L168.93,1020.59 L169.04,1020.60 L170.39,1020.67 L171.74,1020.74 L171.77,1020.74 L173.08,1020.82 L174.43,1020.89 L174.74,1020.90 L175.78,1020.96 L177.12,1021.03 L177.84,1021.07 L178.47,1021.11 L179.82,1021.18 L181.08,1021.25 L181.16,1021.25 L182.51,1021.32 L183.86,1021.39 L184.46,1021.43 L185.20,1021.47 L186.55,1021.54 L187.90,1021.61 L187.99,1021.62 L189.24,1021.68 L190.59,1021.76 L191.68,1021.81 L191.94,1021.83 L193.28,1021.90 L194.63,1021.97 L195.53,1022.02 L195.98,1022.04 L197.32,1022.12 L198.67,1022.19 L199.55,1022.23 L200.02,1022.26 L201.36,1022.33 L202.71,1022.40 L203.74,1022.46 L204.06,1022.48 L205.41,1022.55 L206.75,1022.62 L208.10,1022.69 L208.12,1022.69 L209.45,1022.76 L210.79,1022.83 L212.14,1022.91 L212.69,1022.94 L213.49,1022.98 L214.83,1023.05 L216.18,1023.12 L217.47,1023.19 L217.53,1023.19 L218.87,1023.26 L220.22,1023.33 L221.57,1023.41 L222.45,1023.45 L222.91,1023.48 L224.26,1023.55 L225.61,1023.62 L226.95,1023.69 L227.66,1023.73 L228.30,1023.76 L229.65,1023.83 L230.99,1023.90 L232.34,1023.97 L233.10,1024.01 L233.69,1024.04 L235.03,1024.12 L236.38,1024.19 L237.73,1024.26 L238.77,1024.31 L239.07,1024.33 L240.42,1024.40 L241.77,1024.47 L243.11,1024.54 L244.46,1024.61 L244.69,1024.62 L245.81,1024.68 L247.15,1024.75 L248.50,1024.82 L249.85,1024.89 L250.88,1024.94 L251.19,1024.96 L252.54,1025.03 L253.89,1025.10 L255.23,1025.17 L256.58,1025.24 L257.34,1025.28 L257.93,1025.31 L259.27,1025.38 L260.62,1025.45 L261.97,1025.52 L263.31,1025.59 L264.08,1025.63 L264.66,1025.66 L266.01,1025.73 L267.35,1025.80 L268.70,1025.86 L270.05,1025.93 L271.12,1025.99 L271.39,1026.00 L272.74,1026.07 L274.09,1026.14 L275.44,1026.21 L276.78,1026.28 L278.13,1026.35 L278.48,1026.37 L279.48,1026.42 L280.82,1026.48 L282.17,1026.55 L283.52,1026.62 L284.86,1026.69 L286.15,1026.76 L286.21,1026.76 L287.56,1026.83 L288.90,1026.89 L290.25,1026.96 L291.60,1027.03 L292.94,1027.10 L294.17,1027.16 L294.29,1027.17 L295.64,1027.23 L296.98,1027.30 L298.33,1027.37 L299.68,1027.44 L301.02,1027.51 L302.37,1027.57 L302.53,1027.58 L303.72,1027.64 L305.06,1027.71 L306.41,1027.77 L307.76,1027.84 L309.10,1027.91 L310.45,1027.98 L311.27,1028.02 L311.80,1028.04 L313.14,1028.11 L314.49,1028.18 L315.84,1028.24 L317.18,1028.31 L318.53,1028.38 L319.88,1028.44 L320.39,1028.47 L321.22,1028.51 L322.57,1028.57 L323.92,1028.64 L325.26,1028.71 L326.61,1028.77 L327.96,1028.84 L329.30,1028.90 L329.92,1028.93 L330.65,1028.97 L332.00,1029.04 L333.34,1029.10 L334.69,1029.17 L336.04,1029.23 L337.38,1029.30 L338.73,1029.36 L339.86,1029.42 L340.08,1029.43 L341.43,1029.49 L342.77,1029.56 L344.12,1029.62 L345.47,1029.69 L346.81,1029.75 L348.16,1029.82 L349.51,1029.88 L350.24,1029.92 L350.85,1029.95 L352.20,1030.01 L353.55,1030.07 L354.89,1030.14 L356.24,1030.20 L357.59,1030.27 L358.93,1030.33 L360.28,1030.39 L361.08,1030.43 L361.63,1030.46 L362.97,1030.52 L364.32,1030.59 L365.67,1030.65 L367.01,1030.71 L368.36,1030.78 L369.71,1030.84 L371.05,1030.90 L372.40,1030.96" fill="none" stroke="#111" stroke-width="1.3" stroke-linejoin="round"/>
<path d="M104.40,1014.91 L104.40,1014.91 L104.45,1015.07 L104.45,1015.08 L104.45,1015.08 L104.46,1015.09 L104.46,1015.10 L104.46,1015.11 L104.46,1015.12 L104.47,1015.12 L104.47,1015.13 L104.47,1015.14 L104.48,1015.15 L104.48,1015.17 L104.48,1015.18 L104.49,1015.19 L104.49,1015.20 L104.50,1015.21 L104.50,1015.23 L104.50,1015.24 L104.51,1015.25 L104.51,1015.27 L104.52,1015.29 L104.52,1015.30 L104.53,1015.32 L104.53,1015.34 L104.54,1015.36 L104.55,1015.38 L104.55,1015.40 L104.56,1015.42 L104.57,1015.44 L104.57,1015.46 L104.58,1015.49 L104.59,1015.51 L104.60,1015.54 L104.61,1015.57 L104.62,1015.60 L104.63,1015.63 L104.64,1015.66 L104.65,1015.69 L104.66,1015.72 L104.67,1015.76 L104.68,1015.80 L104.69,1015.84 L104.71,1015.88 L104.72,1015.92 L104.73,1015.96 L104.75,1016.01 L104.76,1016.06 L104.78,1016.11 L104.80,1016.16 L104.81,1016.21 L104.83,1016.27 L104.85,1016.33 L104.87,1016.39 L104.89,1016.46 L104.91,1016.52 L104.94,1016.59 L104.96,1016.67 L104.98,1016.74 L105.01,1016.82 L105.04,1016.91 L105.07,1016.99 L105.10,1017.08 L105.13,1017.18 L105.16,1017.27 L105.19,1017.37 L105.23,1017.48 L105.26,1017.59 L105.30,1017.71 L105.34,1017.83 L105.38,1017.95 L105.42,1018.08 L105.47,1018.22 L105.52,1018.36 L105.57,1018.51 L105.62,1018.66 L105.67,1018.82 L105.73,1018.99 L105.75,1019.04 L105.79,1019.16 L105.85,1019.34 L105.91,1019.53 L105.98,1019.72 L106.05,1019.92 L106.12,1020.13 L106.20,1020.35 L106.28,1020.58 L106.36,1020.82 L106.44,1021.06 L106.53,1021.32 L106.63,1021.59 L106.73,1021.86 L106.83,1022.15 L106.94,1022.45 L107.05,1022.76 L107.09,1022.88 L107.16,1023.08 L107.29,1023.41 L107.41,1023.75 L107.55,1024.11 L107.69,1024.48 L107.83,1024.86 L107.98,1025.26 L108.14,1025.67 L108.30,1026.10 L108.44,1026.44 L108.48,1026.54 L108.66,1027.00 L108.84,1027.47 L109.04,1027.95 L109.24,1028.46 L109.46,1028.98 L109.68,1029.51 L109.78,1029.76 L109.91,1030.07 L110.16,1030.64 L110.41,1031.23 L110.68,1031.83 L110.95,1032.46 L111.13,1032.85 L111.24,1033.10 L111.54,1033.76 L111.86,1034.44 L112.19,1035.13 L112.48,1035.74 L112.53,1035.85 L112.89,1036.58 L113.26,1037.34 L113.65,1038.11 L113.82,1038.44 L114.06,1038.90 L114.49,1039.70 L114.93,1040.53 L115.17,1040.96 L115.40,1041.37 L115.88,1042.23 L116.39,1043.11 L116.52,1043.32 L116.92,1044.00 L117.47,1044.91 L117.86,1045.54 L118.05,1045.83 L118.65,1046.78 L119.21,1047.63 L119.28,1047.73 L119.93,1048.70 L120.55,1049.59 L120.62,1049.68 L121.33,1050.68 L121.90,1051.45 L122.08,1051.68 L122.86,1052.70 L123.25,1053.20 L123.67,1053.73 L124.52,1054.77 L124.59,1054.85 L125.41,1055.81 L125.94,1056.42 L126.33,1056.87 L127.29,1057.91 L127.30,1057.93 L128.31,1059.00 L128.63,1059.33 L129.37,1060.08 L129.98,1060.68 L130.47,1061.16 L131.32,1061.97 L131.62,1062.24 L132.67,1063.20 L132.82,1063.33 L134.02,1064.38 L134.07,1064.43 L135.36,1065.51 L135.38,1065.52 L136.71,1066.60 L136.74,1066.63 L138.06,1067.65 L138.17,1067.73 L139.40,1068.65 L139.66,1068.84 L140.75,1069.63 L141.21,1069.95 L142.09,1070.56 L142.84,1071.07 L143.44,1071.47 L144.53,1072.19 L144.79,1072.35 L146.13,1073.21 L146.30,1073.31 L147.48,1074.04 L148.15,1074.44 L148.83,1074.85 L150.08,1075.58 L150.17,1075.63 L151.52,1076.40 L152.09,1076.72 L152.86,1077.15 L154.19,1077.87 L154.21,1077.88 L155.56,1078.60 L156.39,1079.03 L156.90,1079.29 L158.25,1079.98 L158.68,1080.20 L159.60,1080.65 L160.94,1081.31 L161.07,1081.37 L162.29,1081.96 L163.57,1082.56 L163.63,1082.59 L164.98,1083.21 L166.18,1083.76 L166.33,1083.83 L167.67,1084.43 L168.91,1084.97 L169.02,1085.02 L170.37,1085.61 L171.71,1086.18 L171.75,1086.20 L173.06,1086.75 L174.40,1087.31 L174.72,1087.44 L175.75,1087.86 L177.10,1088.41 L177.82,1088.70 L178.44,1088.94 L179.79,1089.48 L181.06,1089.97 L181.14,1090.00 L182.48,1090.52 L183.83,1091.03 L184.44,1091.26 L185.17,1091.53 L186.52,1092.03 L187.87,1092.52 L187.97,1092.56 L189.21,1093.01 L190.56,1093.49 L191.65,1093.88 L191.91,1093.97 L193.25,1094.44 L194.60,1094.90 L195.50,1095.21 L195.94,1095.37 L197.29,1095.82 L198.64,1096.27 L199.51,1096.56 L199.98,1096.72 L201.33,1097.16 L202.67,1097.60 L203.71,1097.93 L204.02,1098.03 L205.37,1098.46 L206.71,1098.88 L208.06,1099.30 L208.09,1099.31 L209.41,1099.71 L210.75,1100.12 L212.10,1100.53 L212.66,1100.70 L213.44,1100.93 L214.79,1101.33 L216.14,1101.73 L217.43,1102.10 L217.48,1102.12 L218.83,1102.50 L220.18,1102.88 L221.52,1103.26 L222.42,1103.51 L222.87,1103.64 L224.21,1104.01 L225.56,1104.38 L226.91,1104.74 L227.62,1104.93 L228.25,1105.10 L229.60,1105.46 L230.95,1105.81 L232.29,1106.16 L233.05,1106.36 L233.64,1106.51 L234.98,1106.85 L236.33,1107.19 L237.68,1107.53 L238.72,1107.79 L239.02,1107.86 L240.37,1108.19 L241.72,1108.52 L243.06,1108.85 L244.41,1109.17 L244.65,1109.22 L245.75,1109.48 L247.10,1109.80 L248.45,1110.11 L249.79,1110.42 L250.83,1110.65 L251.14,1110.72 L252.49,1111.03 L253.83,1111.33 L255.18,1111.62 L256.52,1111.92 L257.29,1112.08 L257.87,1112.21 L259.22,1112.50 L260.56,1112.78 L261.91,1113.06 L263.26,1113.34 L264.03,1113.50 L264.60,1113.62 L265.95,1113.90 L267.29,1114.17 L268.64,1114.44 L269.99,1114.70 L271.07,1114.92 L271.33,1114.97 L272.68,1115.23 L274.03,1115.49 L275.37,1115.74 L276.72,1116.00 L278.06,1116.25 L278.41,1116.32 L279.41,1116.50 L280.76,1116.75 L282.10,1116.99 L283.45,1117.23 L284.79,1117.47 L286.09,1117.70 L286.14,1117.71 L287.49,1117.95 L288.83,1118.18 L290.18,1118.41 L291.53,1118.64 L292.87,1118.86 L294.10,1119.07 L294.22,1119.09 L295.56,1119.31 L296.91,1119.53 L298.26,1119.75 L299.60,1119.96 L300.95,1120.18 L302.30,1120.39 L302.46,1120.41 L303.64,1120.60 L304.99,1120.80 L306.33,1121.01 L307.68,1121.21 L309.03,1121.41 L310.37,1121.61 L311.20,1121.73 L311.72,1121.81 L313.07,1122.01 L314.41,1122.20 L315.76,1122.39 L317.10,1122.58 L318.45,1122.77 L319.80,1122.96 L320.31,1123.03 L321.14,1123.14 L322.49,1123.33 L323.84,1123.51 L325.18,1123.69 L326.53,1123.86 L327.87,1124.04 L329.22,1124.21 L329.83,1124.29 L330.57,1124.39 L331.91,1124.56 L333.26,1124.73 L334.61,1124.89 L335.95,1125.06 L337.30,1125.22 L338.64,1125.39 L339.77,1125.52 L339.99,1125.55 L341.34,1125.71 L342.68,1125.87 L344.03,1126.02 L345.38,1126.18 L346.72,1126.33 L348.07,1126.48 L349.41,1126.63 L350.15,1126.72 L350.76,1126.78 L352.11,1126.93 L353.45,1127.08 L354.80,1127.22 L356.15,1127.37 L357.49,1127.51 L358.84,1127.65 L360.18,1127.79 L360.99,1127.87 L361.53,1127.93 L362.88,1128.06 L364.22,1128.20 L365.57,1128.33 L366.92,1128.47 L368.26,1128.60 L369.61,1128.73 L370.95,1128.86 L372.30,1128.99" fill="none" stroke="#111" stroke-width="1.3" stroke-linejoin="round"/>
<line x1="104.40" y1="1002.70" x2="104.40" y2="1022.90" stroke="#111" stroke-width="1.3"/>
<line x1="100.00" y1="1002.70" x2="108.80" y2="1002.70" stroke="#111" stroke-width="1.3"/>
<line x1="100.00" y1="1022.90" x2="108.80" y2="1022.90" stroke="#111" stroke-width="1.3"/>
<line x1="104.40" y1="1010.00" x2="104.40" y2="1027.20" stroke="#111" stroke-width="1.3"/>
<line x1="100.00" y1="1010.00" x2="108.80" y2="1010.00" stroke="#111" stroke-width="1.3"/>
<line x1="100.00" y1="1027.20" x2="108.80" y2="1027.20" stroke="#111" stroke-width="1.3"/>
<line x1="113.10" y1="1011.20" x2="113.10" y2="1030.00" stroke="#111" stroke-width="1.3"/>
<line x1="108.70" y1="1011.20" x2="117.50" y2="1011.20" stroke="#111" stroke-width="1.3"/>
<line x1="108.70" y1="1030.00" x2="117.50" y2="1030.00" stroke="#111" stroke-width="1.3"/>
<line x1="171.50" y1="1010.10" x2="171.50" y2="1021.00" stroke="#111" stroke-width="1.3"/>
<line x1="167.10" y1="1010.10" x2="175.90" y2="1010.10" stroke="#111" stroke-width="1.3"/>
<line x1="167.10" y1="1021.00" x2="175.90" y2="1021.00" stroke="#111" stroke-width="1.3"/>
<line x1="238.80" y1="1016.70" x2="238.80" y2="1037.40" stroke="#111" stroke-width="1.3"/>
<line x1="234.40" y1="1016.70" x2="243.20" y2="1016.70" stroke="#111" stroke-width="1.3"/>
<line x1="234.40" y1="1037.40" x2="243.20" y2="1037.40" stroke="#111" stroke-width="1.3"/>
<line x1="372.40" y1="1021.80" x2="372.40" y2="1040.90" stroke="#111" stroke-width="1.3"/>
<line x1="368.00" y1="1021.80" x2="376.80" y2="1021.80" stroke="#111" stroke-width="1.3"/>
<line x1="368.00" y1="1040.90" x2="376.80" y2="1040.90" stroke="#111" stroke-width="1.3"/>
<line x1="112.90" y1="1010.90" x2="112.90" y2="1050.40" stroke="#111" stroke-width="1.3"/>
<line x1="108.50" y1="1010.90" x2="117.30" y2="1010.90" stroke="#111" stroke-width="1.3"/>
<line x1="108.50" y1="1050.40" x2="117.30" y2="1050.40" stroke="#111" stroke-width="1.3"/>
<line x1="121.30" y1="1033.10" x2="121.30" y2="1067.50" stroke="#111" stroke-width="1.3"/>
<line x1="116.90" y1="1033.10" x2="125.70" y2="1033.10" stroke="#111" stroke-width="1.3"/>
<line x1="116.90" y1="1067.50" x2="125.70" y2="1067.50" stroke="#111" stroke-width="1.3"/>
<line x1="137.10" y1="1044.40" x2="137.10" y2="1092.10" stroke="#111" stroke-width="1.3"/>
<line x1="132.70" y1="1044.40" x2="141.50" y2="1044.40" stroke="#111" stroke-width="1.3"/>
<line x1="132.70" y1="1092.10" x2="141.50" y2="1092.10" stroke="#111" stroke-width="1.3"/>
<line x1="170.80" y1="1060.80" x2="170.80" y2="1113.30" stroke="#111" stroke-width="1.3"/>
<line x1="166.40" y1="1060.80" x2="175.20" y2="1060.80" stroke="#111" stroke-width="1.3"/>
<line x1="166.40" y1="1113.30" x2="175.20" y2="1113.30" stroke="#111" stroke-width="1.3"/>
<line x1="238.10" y1="1084.20" x2="238.10" y2="1133.60" stroke="#111" stroke-width="1.3"/>
<line x1="233.70" y1="1084.20" x2="242.50" y2="1084.20" stroke="#111" stroke-width="1.3"/>
<line x1="233.70" y1="1133.60" x2="242.50" y2="1133.60" stroke="#111" stroke-width="1.3"/>
<line x1="372.00" y1="1116.30" x2="372.00" y2="1144.70" stroke="#111" stroke-width="1.3"/>
<line x1="367.60" y1="1116.30" x2="376.40" y2="1116.30" stroke="#111" stroke-width="1.3"/>
<line x1="367.60" y1="1144.70" x2="376.40" y2="1144.70" stroke="#111" stroke-width="1.3"/>
<rect x="100.80" y="1007.30" width="6.00" height="6.00" fill="#fff" stroke="#111" stroke-width="1.2"/>
<path d="M104.40,1014.30 L108.60,1022.10 L100.20,1022.10 Z" fill="#111"/>
<path d="M113.10,1016.40 L117.30,1024.20 L108.90,1024.20 Z" fill="#111"/>
<path d="M121.40,1015.90 L125.60,1023.70 L117.20,1023.70 Z" fill="#111"/>
<path d="M137.80,1016.70 L142.00,1024.50 L133.60,1024.50 Z" fill="#111"/>
<path d="M171.50,1012.10 L175.70,1019.90 L167.30,1019.90 Z" fill="#111"/>
<path d="M238.80,1023.30 L243.00,1031.10 L234.60,1031.10 Z" fill="#111"/>
<path d="M372.40,1027.40 L376.60,1035.20 L368.20,1035.20 Z" fill="#111"/>
<rect x="100.80" y="1010.60" width="6.8" height="6.8" fill="#111"/>
<rect x="108.50" y="1029.70" width="6.8" height="6.8" fill="#111"/>
<rect x="117.20" y="1046.40" width="6.8" height="6.8" fill="#111"/>
<rect x="133.70" y="1063.70" width="6.8" height="6.8" fill="#111"/>
<rect x="167.40" y="1082.60" width="6.8" height="6.8" fill="#111"/>
<rect x="234.70" y="1105.00" width="6.8" height="6.8" fill="#111"/>
<rect x="368.60" y="1125.70" width="6.8" height="6.8" fill="#111"/>
<line x1="133.10" y1="986.50" x2="116.00" y2="1000.50" stroke="#111" stroke-width="1.6"/>
<path d="M112,1003.8 L115.2,995.8 L120.3,1002 Z" fill="#111"/>
<rect x="139.90" y="976.60" width="6.20" height="6.20" fill="#fff" stroke="#111" stroke-width="1.2"/>
<text x="156.10" y="984.80" font-size="15.6" text-anchor="start" font-weight="normal" >No APC</text>
<path d="M311.90,1054.30 L316.10,1062.10 L307.70,1062.10 Z" fill="#111"/>
<text x="324.80" y="1062.50" font-size="15.2" text-anchor="start" font-weight="normal" >E36A</text>
<rect x="319.20" y="1144.90" width="6.6" height="6.6" fill="#111"/>
<text x="336.20" y="1153.40" font-size="15.3" text-anchor="start" font-weight="normal" >WT</text>
<line x1="102.40" y1="28.65" x2="102.40" y2="275.30" stroke="#111" stroke-width="1.6"/>
<line x1="98.60" y1="271.50" x2="368.00" y2="271.50" stroke="#111" stroke-width="1.6"/>
<line x1="98.60" y1="271.50" x2="102.40" y2="271.50" stroke="#111" stroke-width="1.6"/>
<line x1="98.60" y1="231.03" x2="102.40" y2="231.03" stroke="#111" stroke-width="1.6"/>
<line x1="98.60" y1="190.55" x2="102.40" y2="190.55" stroke="#111" stroke-width="1.6"/>
<line x1="98.60" y1="150.07" x2="102.40" y2="150.07" stroke="#111" stroke-width="1.6"/>
<line x1="98.60" y1="109.60" x2="102.40" y2="109.60" stroke="#111" stroke-width="1.6"/>
<line x1="98.60" y1="69.12" x2="102.40" y2="69.12" stroke="#111" stroke-width="1.6"/>
<line x1="98.60" y1="28.65" x2="102.40" y2="28.65" stroke="#111" stroke-width="1.6"/>
<line x1="102.40" y1="271.50" x2="102.40" y2="275.30" stroke="#111" stroke-width="1.6"/>
<line x1="168.80" y1="271.50" x2="168.80" y2="275.30" stroke="#111" stroke-width="1.6"/>
<line x1="235.20" y1="271.50" x2="235.20" y2="275.30" stroke="#111" stroke-width="1.6"/>
<line x1="301.60" y1="271.50" x2="301.60" y2="275.30" stroke="#111" stroke-width="1.6"/>
<line x1="368.00" y1="271.50" x2="368.00" y2="275.30" stroke="#111" stroke-width="1.6"/>
<line x1="102.00" y1="346.20" x2="102.00" y2="593.90" stroke="#111" stroke-width="1.6"/>
<line x1="98.10" y1="590.00" x2="369.20" y2="590.00" stroke="#111" stroke-width="1.6"/>
<line x1="98.10" y1="590.00" x2="102.00" y2="590.00" stroke="#111" stroke-width="1.6"/>
<line x1="98.10" y1="549.37" x2="102.00" y2="549.37" stroke="#111" stroke-width="1.6"/>
<line x1="98.10" y1="508.73" x2="102.00" y2="508.73" stroke="#111" stroke-width="1.6"/>
<line x1="98.10" y1="468.10" x2="102.00" y2="468.10" stroke="#111" stroke-width="1.6"/>
<line x1="98.10" y1="427.47" x2="102.00" y2="427.47" stroke="#111" stroke-width="1.6"/>
<line x1="98.10" y1="386.83" x2="102.00" y2="386.83" stroke="#111" stroke-width="1.6"/>
<line x1="98.10" y1="346.20" x2="102.00" y2="346.20" stroke="#111" stroke-width="1.6"/>
<line x1="102.00" y1="590.00" x2="102.00" y2="593.90" stroke="#111" stroke-width="1.6"/>
<line x1="168.80" y1="590.00" x2="168.80" y2="593.90" stroke="#111" stroke-width="1.6"/>
<line x1="235.60" y1="590.00" x2="235.60" y2="593.90" stroke="#111" stroke-width="1.6"/>
<line x1="302.40" y1="590.00" x2="302.40" y2="593.90" stroke="#111" stroke-width="1.6"/>
<line x1="369.20" y1="590.00" x2="369.20" y2="593.90" stroke="#111" stroke-width="1.6"/>
<line x1="103.70" y1="656.20" x2="103.70" y2="904.70" stroke="#111" stroke-width="1.6"/>
<line x1="99.60" y1="900.60" x2="371.40" y2="900.60" stroke="#111" stroke-width="1.6"/>
<line x1="99.60" y1="900.60" x2="103.70" y2="900.60" stroke="#111" stroke-width="1.6"/>
<line x1="99.60" y1="859.87" x2="103.70" y2="859.87" stroke="#111" stroke-width="1.6"/>
<line x1="99.60" y1="819.13" x2="103.70" y2="819.13" stroke="#111" stroke-width="1.6"/>
<line x1="99.60" y1="778.40" x2="103.70" y2="778.40" stroke="#111" stroke-width="1.6"/>
<line x1="99.60" y1="737.67" x2="103.70" y2="737.67" stroke="#111" stroke-width="1.6"/>
<line x1="99.60" y1="696.93" x2="103.70" y2="696.93" stroke="#111" stroke-width="1.6"/>
<line x1="99.60" y1="656.20" x2="103.70" y2="656.20" stroke="#111" stroke-width="1.6"/>
<line x1="103.70" y1="900.60" x2="103.70" y2="904.70" stroke="#111" stroke-width="1.6"/>
<line x1="170.62" y1="900.60" x2="170.62" y2="904.70" stroke="#111" stroke-width="1.6"/>
<line x1="237.55" y1="900.60" x2="237.55" y2="904.70" stroke="#111" stroke-width="1.6"/>
<line x1="304.47" y1="900.60" x2="304.47" y2="904.70" stroke="#111" stroke-width="1.6"/>
<line x1="371.40" y1="900.60" x2="371.40" y2="904.70" stroke="#111" stroke-width="1.6"/>
<line x1="104.40" y1="971.00" x2="104.40" y2="1220.50" stroke="#111" stroke-width="1.6"/>
<line x1="100.10" y1="1216.20" x2="372.40" y2="1216.20" stroke="#111" stroke-width="1.6"/>
<line x1="100.10" y1="1216.20" x2="104.40" y2="1216.20" stroke="#111" stroke-width="1.6"/>
<line x1="100.10" y1="1175.33" x2="104.40" y2="1175.33" stroke="#111" stroke-width="1.6"/>
<line x1="100.10" y1="1134.47" x2="104.40" y2="1134.47" stroke="#111" stroke-width="1.6"/>
<line x1="100.10" y1="1093.60" x2="104.40" y2="1093.60" stroke="#111" stroke-width="1.6"/>
<line x1="100.10" y1="1052.73" x2="104.40" y2="1052.73" stroke="#111" stroke-width="1.6"/>
<line x1="100.10" y1="1011.87" x2="104.40" y2="1011.87" stroke="#111" stroke-width="1.6"/>
<line x1="100.10" y1="971.00" x2="104.40" y2="971.00" stroke="#111" stroke-width="1.6"/>
<line x1="104.40" y1="1216.20" x2="104.40" y2="1220.50" stroke="#111" stroke-width="1.6"/>
<line x1="171.40" y1="1216.20" x2="171.40" y2="1220.50" stroke="#111" stroke-width="1.6"/>
<line x1="238.40" y1="1216.20" x2="238.40" y2="1220.50" stroke="#111" stroke-width="1.6"/>
<line x1="305.40" y1="1216.20" x2="305.40" y2="1220.50" stroke="#111" stroke-width="1.6"/>
<line x1="372.40" y1="1216.20" x2="372.40" y2="1220.50" stroke="#111" stroke-width="1.6"/>
</svg>
</body></html>
